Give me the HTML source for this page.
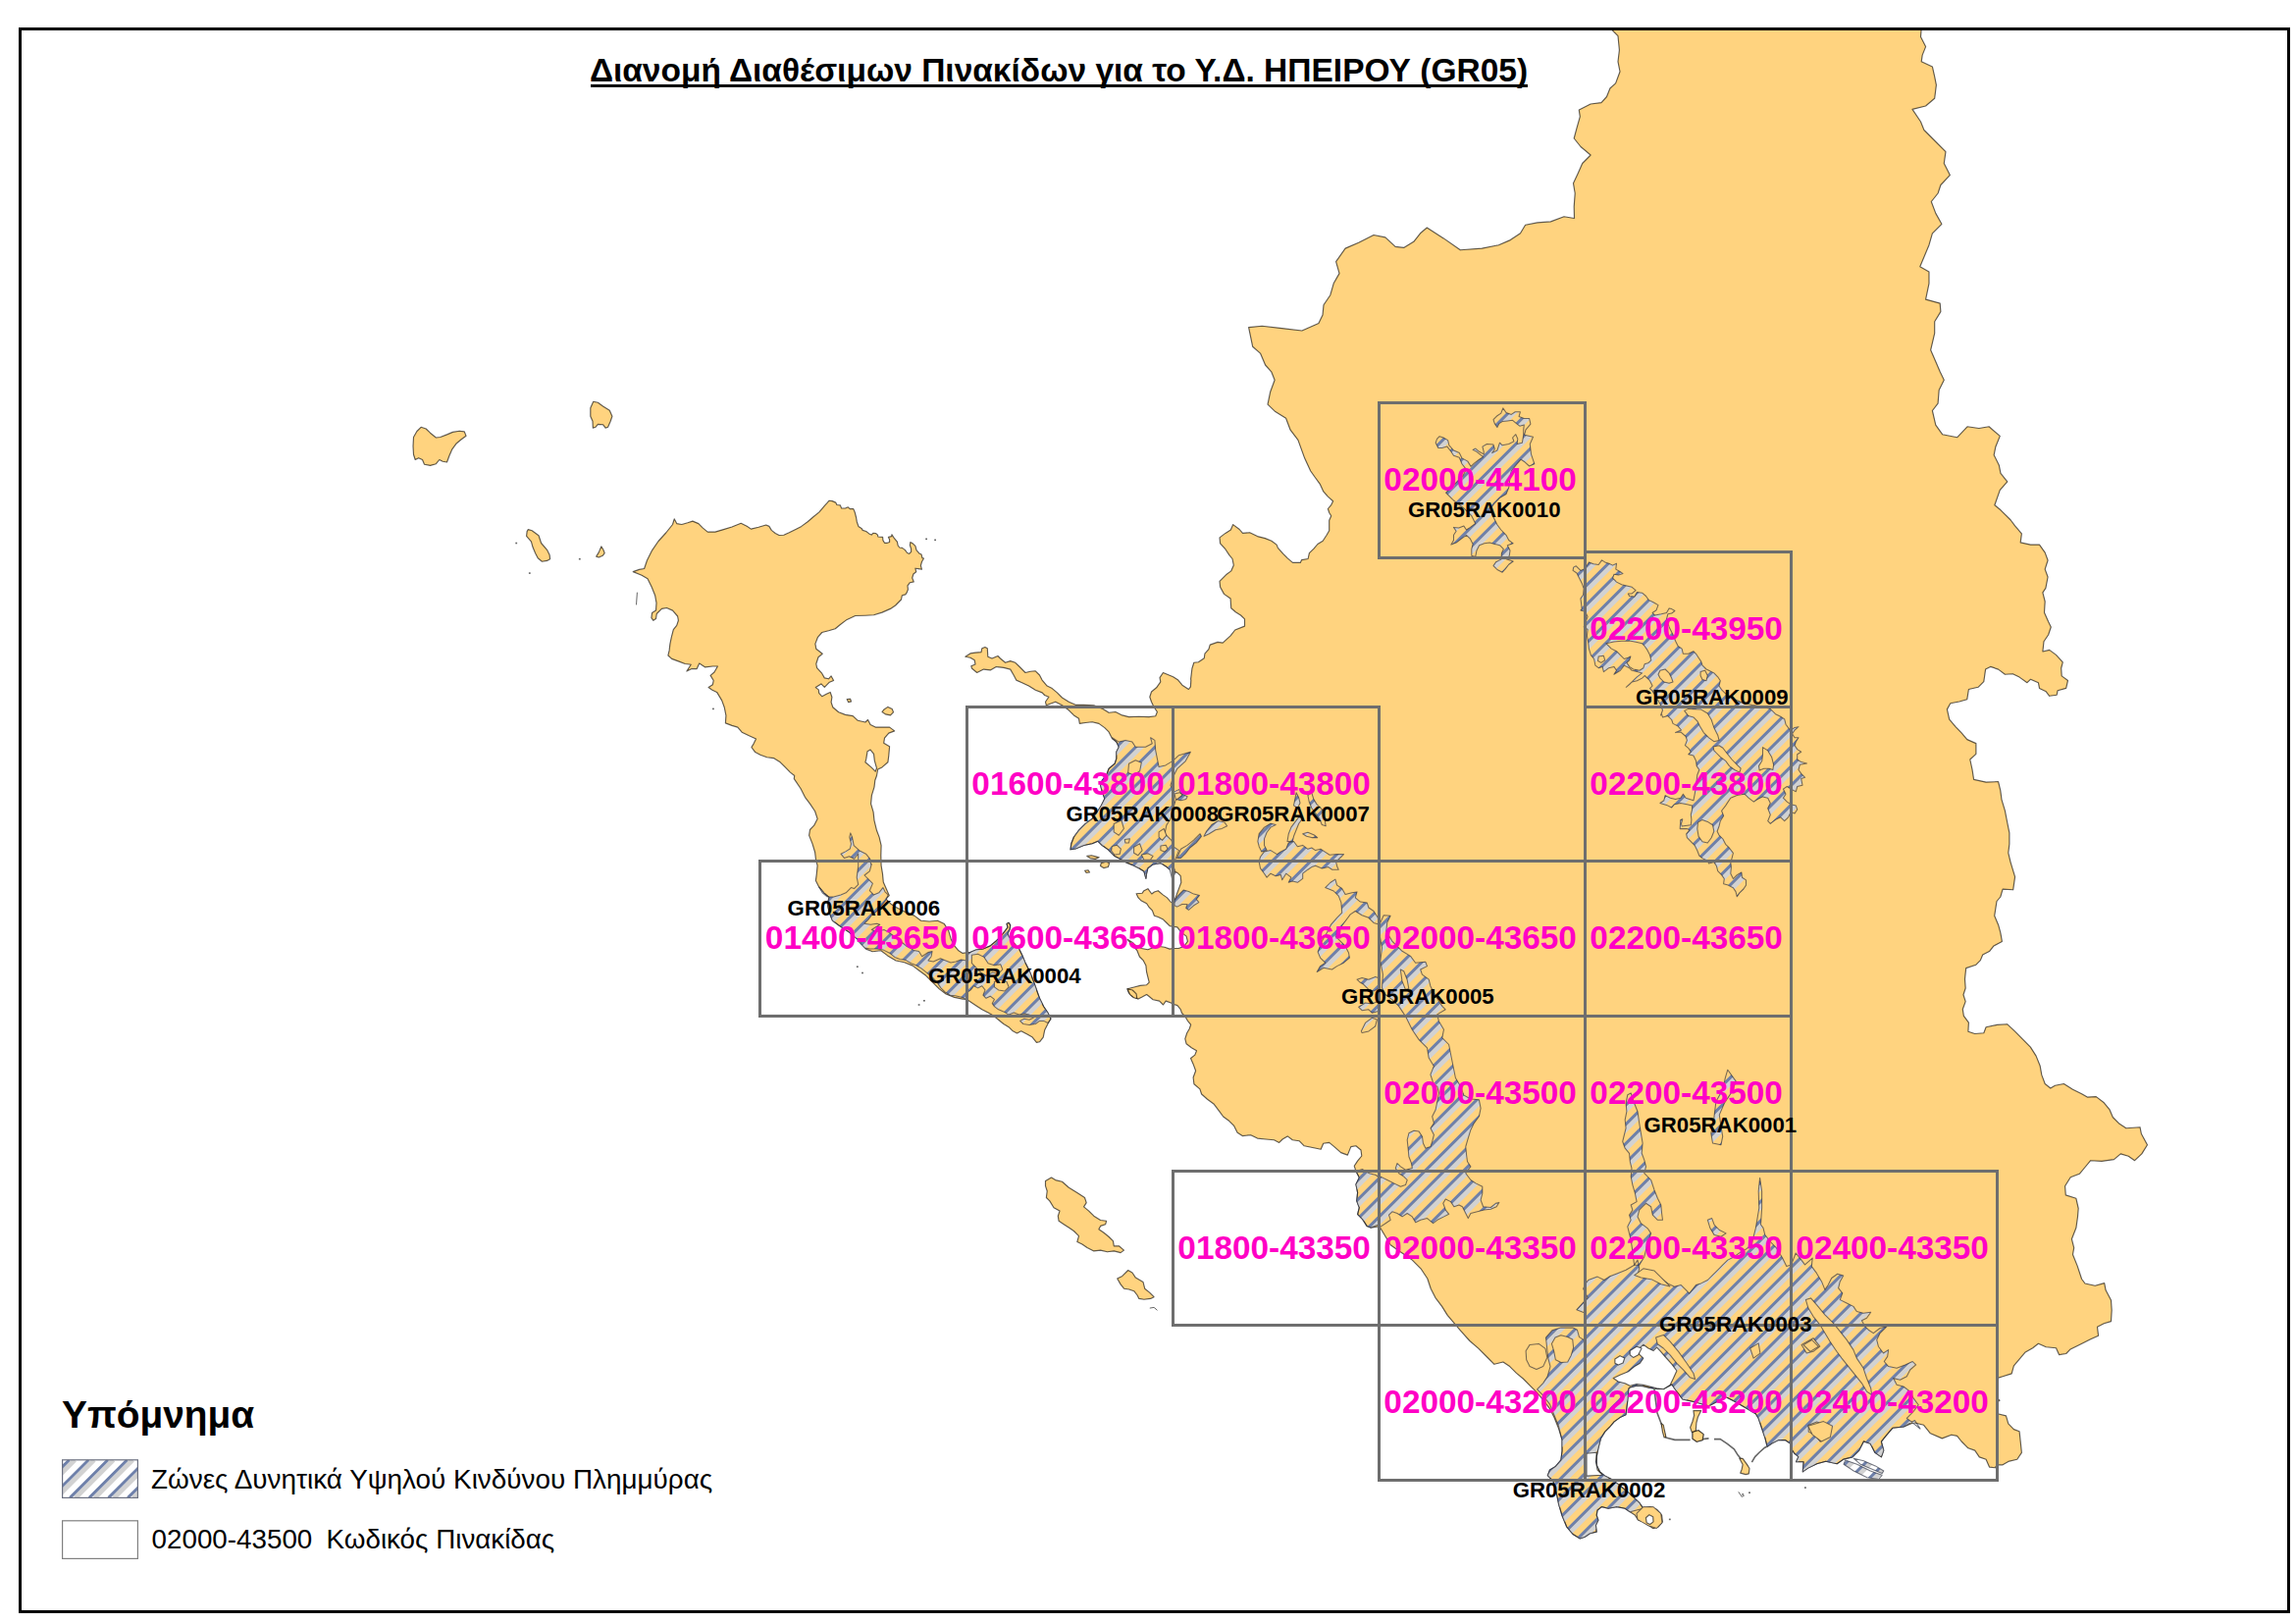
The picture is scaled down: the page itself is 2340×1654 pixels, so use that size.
<!DOCTYPE html>
<html><head><meta charset="utf-8"><title>GR05</title>
<style>
html,body{margin:0;padding:0;background:#fff}
body{width:2340px;height:1654px;overflow:hidden;font-family:"Liberation Sans",sans-serif}
svg{display:block}
text{font-family:"Liberation Sans",sans-serif}
.mg{font-size:33.33px;font-weight:bold;fill:#FF00C5;text-anchor:middle}
.rk{font-size:22.22px;font-weight:bold;fill:#000}
.land{fill:#FFD37F;stroke:#000;stroke-opacity:.62;stroke-width:1.15;stroke-linejoin:round}
.lag{fill:#fff;stroke:#000;stroke-opacity:.62;stroke-width:1.15;stroke-linejoin:round}
.zoneo{fill:none;stroke:#1a2030;stroke-opacity:.6;stroke-width:1.05;stroke-linejoin:round}
.hole{fill:#FFD37F;stroke:#1a2030;stroke-opacity:.6;stroke-width:1.05;stroke-linejoin:round}
.grid{fill:none;stroke:#6E6E6E;stroke-width:3}
</style></head><body>
<svg width="2340" height="1654" viewBox="0 0 2340 1654">

<rect width="2340" height="1654" fill="#fff"/>

<g id="land">
<polygon class="land" points="1641.5,29.2 1958.2,29.2 1957.5,37.4 1962.6,47.6 1959.2,56.1 1958.2,62.8 1969.4,67.9 1971.7,78.1 1973.4,86.6 1971.7,100.2 1962.6,108 1949,111.4 1957.5,124 1960.9,132.5 1969.4,141 1983,154.6 1981.3,166.5 1987.4,178.4 1977.9,188.5 1975.1,197 1968.3,205.5 1972.8,217.4 1978.9,228.3 1969.4,237.8 1966,249.7 1956.8,271.8 1966,276.9 1966,288.8 1962.6,305.1 1977.2,309.1 1977.9,317.6 1971.7,327.8 1971.7,339.7 1967.7,356.7 1972.8,368.6 1977.2,378.8 1981.3,387.3 1976.2,397.5 1975.1,411.1 1969.4,418.5 1972.8,433.1 1979.6,442.7 1994.8,445.7 2005,434.8 2016.9,436.5 2027.1,434.8 2038.3,444.4 2033.9,455.2 2032.2,463.7 2037.3,473.9 2039,482.4 2045.8,490.9 2038.3,499.4 2032.9,514.7 2039,519.8 2049.2,530 2053.6,535.9 2060.4,543.8 2059.2,552.9 2069.4,555.1 2078.5,555.1 2084.2,563.1 2087.1,571 2084.2,580.1 2087.1,588 2084.9,599.4 2081.9,603.9 2084.2,613 2083.5,624.3 2087.6,633.4 2090.3,639 2087.6,647 2083,653.8 2081.9,664 2088.7,662.4 2095.5,667.4 2102.3,674.9 2100.7,681 2101.2,688.9 2107.5,693.5 2105.7,701.4 2097.1,703.7 2096.2,708.2 2088.7,709.3 2085.3,704.8 2078.5,701.4 2077.4,695.7 2069.4,692.3 2066,695.7 2058.1,690.1 2051.3,686.7 2043.4,687.3 2036.6,682.1 2028.6,679.4 2023.6,682.1 2021.8,694.6 2016.1,700.3 2006.4,702.5 2004.8,712.7 1996.9,715 1987.8,716.8 1984.4,722.9 1986.7,733.2 1993.5,741.1 1999.1,746.8 2004.8,753.6 2013.9,757.6 2013.9,768.3 2007.8,774 2010,784.2 2011.6,794.4 2024.1,797.1 2036.6,796.6 2038.8,805.7 2040,814.8 2043.4,826.1 2045.6,837.5 2047.9,848.8 2047.9,860.1 2046.8,869.2 2049,878.3 2053.6,893.6 2051.7,906.8 2041.1,906.1 2038.8,914 2035,918.5 2032.7,933.3 2036.6,942.4 2038.8,950.3 2040.4,959.4 2032,963.9 2027.5,969.6 2020.7,973 2018.4,978.6 2013.9,983.2 2003.7,986.6 2002.5,997.9 2003.2,1007 2001,1013.8 2003.2,1020.6 2000.3,1028.5 2001.4,1035.3 2006.4,1042.1 2005.9,1051.2 2012.7,1053.5 2021.8,1052.8 2024.1,1046.7 2035.4,1044.4 2045.6,1043.7 2053.6,1051.2 2061.5,1059.1 2069.4,1067.1 2075.1,1076.1 2079.2,1086.3 2080.8,1095.4 2084.2,1104.5 2089.8,1109 2094.4,1106.3 2103.4,1104.5 2112.5,1110.2 2121.6,1114.7 2127.3,1118.1 2136.3,1117.6 2144.3,1123.8 2149.9,1130.6 2153.3,1138.5 2160.1,1145.3 2166.9,1149.8 2181,1148.7 2182.4,1155.5 2188.5,1166.8 2182.8,1175.9 2175.6,1182.7 2169.2,1178.2 2161.3,1175.9 2154.5,1181.6 2142,1183.4 2130.7,1182.7 2125,1189.5 2119.3,1196.3 2110.2,1199.7 2104.6,1208.8 2105.3,1217.9 2115.9,1221.3 2118.2,1231.5 2117.5,1240 2115.9,1251.3 2111.4,1262.7 2113.7,1271.7 2112.5,1278.5 2117.1,1289.9 2121.6,1303.5 2125,1308 2135.2,1310.3 2144.7,1307.6 2146.1,1314.8 2151.5,1325 2152.2,1335.2 2151.5,1346.6 2144.3,1348.8 2137.5,1352.2 2138.6,1361.3 2130.7,1364.7 2119.3,1370.4 2110.2,1374.9 2105.7,1379.5 2098.5,1380.6 2095.5,1373.8 2085.3,1372.7 2077.4,1369.3 2071.7,1373.8 2063.8,1378.3 2058.1,1385.1 2052.4,1391.9 2050.2,1399.9 2041.1,1402.8 2035.9,1404.4 2035.9,1425.5 2038.1,1427.1 2035.9,1428.7 2035.9,1440.7 2044.5,1442.9 2046.8,1450.9 2052.4,1456.6 2058.1,1458.8 2059.2,1469 2060.4,1480.4 2055.8,1487.2 2046.8,1489.4 2041.1,1492.8 2035.4,1492.8 2033.2,1495.8 2027.5,1495.1 2024.1,1487.2 2017.3,1484.9 2012.7,1478.1 2005.9,1475.8 1999.1,1469 1994.6,1463.4 1988.9,1462.2 1979.3,1465.9 1967.4,1460.8 1960.6,1452.3 1950.4,1449.7 1940.2,1454 1928.8,1455.3 1922,1463.3 1917.4,1469.1 1919.8,1478.1 1917.4,1484.9 1910.8,1480.3 1906.2,1471.3 1899.4,1468.9 1894.8,1478.1 1888,1484.9 1879,1487.1 1872.2,1491.7 1860.8,1489.3 1851.7,1491.7 1842.7,1496.1 1837.3,1499.9 1838.1,1489.7 1830.5,1489.7 1833,1484.6 1828.8,1481.2 1825.4,1476.1 1824.5,1471 1819.4,1467.6 1812.6,1467.6 1805.8,1471 1801.1,1474.4 1799,1465.9 1795.6,1455.7 1792.2,1445.5 1789.3,1440.7 1778.6,1434.4 1768.4,1428.5 1758.7,1423.5 1749.7,1428.5 1741.5,1432.9 1729.3,1429.3 1714.8,1425.9 1708.9,1418.2 1703.9,1410.9 1700.4,1412.8 1695.3,1415.4 1688.5,1415.4 1681.6,1414.5 1674.8,1412.8 1668,1412.3 1661.2,1414 1659.9,1415.2 1658.7,1428.5 1657,1441.7 1651,1444.6 1645.1,1448.9 1640.8,1454 1635.7,1459.1 1631.5,1465.9 1628.9,1476.1 1627.2,1484.6 1627.2,1493.1 1630.6,1499.9 1635.7,1504.1 1642.5,1507.5 1649.3,1512.6 1657.8,1519.5 1665.5,1526.3 1671.4,1532.2 1674.8,1537.3 1681.6,1535.6 1688.5,1538.2 1693.6,1544.1 1694.4,1550.9 1690.2,1556 1685,1557.7 1679.9,1554.3 1674.8,1550.9 1669.7,1549.2 1666.3,1544.1 1661.2,1540.7 1656.1,1537.3 1647.6,1535.6 1639.1,1537.3 1632.3,1535.6 1628.1,1539 1627.2,1544.1 1628.9,1549.2 1626.4,1554.3 1627.2,1561.1 1620.4,1562.8 1615.3,1566.2 1610.2,1567.9 1603.4,1563.8 1596.6,1555.8 1592,1544.5 1588.6,1533.2 1586.3,1521.8 1582.9,1509.4 1577.3,1503.7 1579.5,1498 1585.2,1494.6 1590.9,1487.8 1592,1478.7 1592,1467.4 1588.6,1456.1 1584.1,1444.7 1579.5,1435.7 1572.7,1426.6 1565.9,1418.7 1559.1,1411.9 1552.3,1405 1545.5,1399.4 1538.7,1392.6 1531.9,1388 1522.9,1390.3 1516.1,1383.5 1507,1374.4 1497.9,1366.5 1488.8,1356.3 1482,1348.4 1475.2,1340.4 1469.6,1331.4 1462.8,1322.3 1458.2,1313.2 1454.8,1303 1448,1292.8 1439.3,1284.1 1428.3,1276.5 1417.2,1268.8 1412.1,1260.3 1407,1251.8 1403.6,1250.1 1397.2,1251.1 1393,1249.4 1388.7,1242.6 1383.6,1237.5 1385.3,1230.7 1382.7,1223.9 1383.6,1215.4 1381.9,1206.9 1385.3,1200.1 1381.9,1193.6 1380.2,1188.2 1383.6,1183.1 1387.8,1178 1387,1172 1381.9,1167.8 1376.8,1168.6 1373.4,1177.1 1366.6,1174.6 1359.8,1168.6 1354.7,1164.4 1348.7,1165.2 1346.2,1171.2 1337.7,1169.5 1329.2,1167.8 1324.1,1162.7 1317.3,1161.8 1312.2,1157.9 1307.1,1161 1303.7,1164.4 1298.5,1161.8 1290,1161 1281.5,1160.1 1274.7,1156.7 1266.2,1157.6 1261.1,1154.2 1257.7,1147.4 1252.6,1142.3 1246.7,1138 1242.4,1132.1 1237.3,1125.3 1230.5,1120.2 1224.6,1115 1222.9,1109.9 1216.9,1104.8 1216.1,1098 1218.6,1091.2 1216.1,1084.4 1213.5,1078.5 1217.8,1075.1 1219.5,1070.8 1214.3,1067.8 1209.1,1063.8 1207.8,1058.6 1209.7,1052.7 1212.3,1048.2 1213.6,1044.2 1210.4,1040.3 1207.8,1035.7 1204.5,1032.5 1203.2,1028.6 1199.9,1024.6 1195.3,1023.3 1193.4,1022 1188.2,1020.1 1185.5,1024 1181.6,1020.1 1175.1,1018.8 1171.2,1015.5 1168.6,1013.5 1164,1016.1 1160.1,1018.1 1154.2,1015.5 1150.3,1011.6 1149,1007.7 1156.8,1005.7 1162,1004.4 1168.6,1003.7 1171.2,1001.1 1169.9,995.9 1168.6,990.7 1167.9,984.1 1165.3,978.9 1161.4,975 1158.8,968.5 1153.5,962.6 1149,957.3 1154.2,960.6 1158.8,964.5 1163.3,966.5 1169.9,967.8 1175.1,965.8 1181.6,964.5 1186.9,965.2 1192.1,967.1 1195.3,966.5 1201.2,966.5 1206.5,964.5 1210.4,959.3 1209.1,954.1 1203.8,950.2 1199.9,944.9 1195.3,944.3 1192.1,943.6 1189.5,941 1185.5,937.1 1180.3,934.5 1176.4,933.2 1174.4,927.9 1171.2,924.7 1168.6,920.8 1163.3,918.1 1160.1,914.9 1158.1,910.7 1164,910.3 1165.9,907.7 1169.9,905.7 1173.8,911 1176.4,909 1180.3,907.7 1184.9,911.6 1189.5,914.9 1193.4,919.5 1196,920.1 1198,914.9 1199.9,909.7 1201.9,904.4 1203.8,899.2 1203.2,892.7 1199.9,889.4 1195.3,888.1 1192.1,886.1 1188.2,882.9 1182.9,879.6 1175.1,880.9 1169.9,884.8 1168.6,890.1 1167.9,895.3 1165.9,888.1 1160.7,884.8 1154.2,881.6 1147.7,878.9 1142.4,875.7 1135.9,872.4 1129.4,865.9 1123.3,861.5 1119,857.3 1113.1,859.8 1104.6,861.5 1096.1,864.9 1091,865.8 1091.8,859.8 1094.4,853 1099.5,846.2 1106.3,839.4 1113.1,834.3 1118.2,827.5 1122.4,820.7 1125.8,813.9 1123.3,807.1 1121.6,800.3 1123.3,795.2 1127.5,790.1 1130.1,783.3 1136.1,778.2 1137.8,773.1 1137.8,766.3 1140.3,761.2 1137.8,756.1 1133.5,752.7 1130.1,745.9 1125.8,741.6 1119.9,737.4 1113.1,735.7 1106.3,736.5 1100.3,737.4 1099.5,732.3 1094.4,728.9 1089.3,723.8 1082.5,718.7 1075.7,715.3 1066.3,718.7 1065.5,715.3 1068.9,710.2 1064.6,708.5 1062.1,705.9 1055.3,703.3 1048.5,699.1 1041.6,695.7 1035.7,693.1 1033.1,688 1029.7,682.1 1022.9,680.4 1015.3,679.5 1009.3,682.9 1002.5,682.1 995.7,685.5 990.6,681.2 989.8,678.7 994,677 993.2,672.7 988.9,670.2 983.8,669.3 988.9,665.9 994,665.1 1000,664.6 1000.8,660.8 1003.9,659.5 1006.3,660.8 1006.8,669.3 1011,671 1017,668.5 1019.5,671 1024.6,675.3 1029.7,673.6 1034.8,675.3 1039.1,679.5 1045,685.5 1050.2,684.3 1055.3,683.8 1059.5,688 1062.1,693.1 1067.2,699.1 1072.3,701.6 1077.4,705.9 1082.5,711 1089.3,715.3 1096.1,718.3 1104.6,718.3 1114.8,718.7 1123.3,722.1 1130.1,726.3 1136.9,725.5 1143.7,728.9 1150.5,730.6 1160.7,730.2 1170.9,730.6 1177.7,729.7 1179.4,725.5 1176,720.4 1173.5,715.3 1171.8,710.2 1173.5,705 1178.6,700.8 1182.8,694.8 1182,690.6 1185.4,685.5 1189.6,687.2 1195.6,689.7 1200.7,693.1 1204.9,698.2 1211.4,702.5 1213.4,699.9 1213.8,693.1 1213.6,692.1 1214.9,681.2 1216.8,675.3 1221.4,674.7 1227.3,670.8 1227.9,666.2 1231.9,661.6 1233.2,657.1 1241,654.4 1246.2,655.1 1254.1,647.9 1258.7,642 1268.5,638.1 1268.5,630.9 1264.5,627 1259.3,623.7 1254.7,619.8 1254.1,610 1247.5,605.4 1243.6,598.3 1243,592.4 1250.2,585.2 1254.7,581.9 1257.3,576 1256,569.5 1252.8,565.6 1248.9,559.7 1243.6,553.8 1243,547.9 1248.9,543.4 1254.3,540.1 1256.7,534.6 1263.2,539.5 1266.5,543.4 1273.7,542.7 1281.5,546.6 1289.4,548.6 1295.9,551.2 1301.1,555.1 1302.4,558.4 1307.7,564.3 1312.2,568.9 1317.5,573.4 1325.3,573.4 1326.6,570.6 1333.1,569.5 1334.4,563.6 1339,559.1 1342.9,554.5 1348.2,551.2 1352.1,545.3 1354.7,540.8 1354.7,530.3 1356.7,525.7 1354.7,522.5 1353.4,518.5 1356.7,514.6 1358.6,510.7 1353.4,506.1 1348.8,500.9 1345.5,493.7 1340.3,486.5 1335.7,480 1329.7,467.1 1322.9,448.4 1315.1,438.2 1310.6,426.3 1299.8,419.6 1292,412.1 1294.7,399.2 1299.1,387.3 1295.7,378.8 1289.6,372 1284.5,360.1 1276.7,353.3 1272.6,333.6 1286.2,332.2 1306.6,334.6 1326.9,337 1343.9,329.5 1348,321 1349,310.8 1355.8,300.7 1359.2,288.8 1365,278.6 1361.6,266.7 1371.1,253.1 1384.7,247.3 1400,239.5 1411.9,241.9 1422.1,251.4 1430.6,252.4 1440.8,246.3 1447.5,237.8 1454.3,232 1471.3,242.9 1488.3,254.8 1510.4,253.1 1527.4,249.7 1539.3,244.6 1549.5,237.8 1554.6,229.3 1566.8,226.9 1580.4,225.9 1594,220.8 1604.5,222.5 1604.2,210.6 1605.2,197 1603.5,186.8 1608.2,176.7 1612.7,166.5 1621.1,158 1611,149.5 1604.2,141 1606.9,130.8 1610.3,118.9 1609.3,112.1 1621.1,106 1632,104.6 1637.5,98.5 1640.9,90 1646.6,84.9 1651,73 1649,62.8 1650.4,51 1649,36.7"/>
<polygon class="land" points="645.2,582.6 651.5,580.4 656.6,579.5 659.5,571 664.6,560.8 671,551.5 678.7,543 685.5,534.5 687.2,528.8 689.7,533.6 694.8,534.5 700.8,532.8 705.9,531.1 711.9,533.6 716.1,537.9 721.2,542.1 728.9,542.1 737.4,539.6 745.9,537 755.2,533.3 761.2,536.2 765.4,539.1 773.1,537.3 780.7,535 783.9,536.4 786.3,540.4 790.2,543.5 794.1,545.5 798.8,545.2 804.3,542.7 811.4,539.2 816.8,536.4 823.1,531.7 828.6,527 834.9,521.9 840.4,515.3 842.7,512.9 845.1,510.2 848.2,510.6 851.7,512.1 852.9,514.5 856.4,514.9 857.6,518 861.5,518 864.3,516.8 866.2,518.6 869.8,518.6 871.3,522.3 872.5,527 873.3,531.7 874.9,536.4 878,538.4 879.2,540.4 882.7,541.5 885.8,543.9 888.2,545.1 889.8,543.3 892.5,543.5 894.5,545.1 894.8,547 899.6,547.4 899.9,550.6 901.5,553.3 904.3,553.3 906.6,552.5 906.6,549.8 905.4,547.4 908.6,546.6 909,544.7 910.5,547.4 912.5,549.8 914.4,552.1 915.2,556 916.8,558 919.5,558.4 922.3,560.4 924.6,563.5 926.6,564.3 928.6,562.3 928.6,559.2 927.4,555.7 927.8,552.5 930.5,554.1 932.9,556.4 934,560.7 936.8,563.9 939.1,565.1 939.9,568.6 941.5,569 939.5,572.5 938.4,576.4 939.5,580.3 936,579.6 932.9,579.2 933.7,582.7 930.9,585 929.7,589 931.3,592.9 927.4,593.7 925,596.8 925.4,600.7 924.2,603.9 922.8,605.9 919.4,606.7 918.5,611 912.6,617 907.5,620.4 899,624.1 890.5,626.8 881.9,627.2 871.7,627.5 863.2,631.4 856.4,636.5 851.3,640.8 844.5,642.8 837.7,644.5 833.5,649.3 830.9,656.1 831.8,661.2 838.2,666.3 834,669.7 831.8,676.5 832.6,680.7 837.4,685.8 840.3,690.9 844.5,691.8 847.1,688.9 849.6,693.5 845.4,695.2 842,698.6 840.3,700.3 836.9,696.9 831.3,700.6 834.3,702.9 834.7,706.3 837.7,709.7 842.8,707.1 846.2,705.4 847.9,710.5 847.1,715.6 848.8,720.7 854.7,725.8 861.5,728.4 869.2,729.6 874.3,734.3 881.9,736 884.5,733.5 887.1,738.6 892.2,741.1 900.7,741.1 906.6,741.1 911.7,744.9 905.8,747.1 901.5,752.2 900.7,757.3 906.6,760.7 905.8,770 904.9,776.8 899,781.9 894.7,784 893.5,790.5 891.8,795.3 891,802.1 888.4,810.6 887.6,819.1 890.1,827.6 891,836.1 893.5,846.3 896.1,853.1 898.1,861.6 897.8,871.9 898.1,882.1 899.5,890.6 900.3,899.1 903.7,906.7 906.3,912.7 902.9,916.1 908,921.2 913.1,924.6 923.3,929.7 931.8,933.1 938.6,938.2 947.1,939 955.6,938.2 962.4,941.6 966.7,948.4 969.2,956.9 972.6,963.7 976.9,968.8 981.1,971.4 989.3,970.2 994.6,968.1 1001.9,967 1009.2,963.9 1015.5,958.7 1019.7,954.5 1023.9,949.2 1027,945 1026,941.4 1028.1,940.3 1029.7,942.9 1029.1,947.1 1027,951.3 1028.1,954.5 1033.3,960.8 1038.6,967 1041.7,973.3 1044.8,980.7 1049,989 1053.2,999.5 1056.9,1010 1059.5,1017.3 1063.7,1025.7 1067.9,1032 1071,1038.3 1067.9,1043.5 1064.7,1049.8 1063.2,1057.1 1059.5,1061.8 1056.4,1062.4 1052.2,1057.1 1046.9,1054 1040.7,1050.8 1036.5,1052.9 1032.3,1050.8 1028.1,1046.7 1022.8,1043.5 1017.6,1039.3 1012.4,1035.1 1007.1,1032 1000.8,1028.8 994.6,1024.7 988.3,1020.5 985.1,1018.4 981.1,1018.1 972.6,1016.4 964.1,1013 957.3,1007.9 950.5,1001.1 943.7,994.3 936.9,989.2 930.1,984.1 921.6,980.7 913.1,979 904.6,973.9 897.8,968.8 889.3,969.7 882.5,967.1 875.7,958.6 865.5,950.1 855.3,943.3 848.5,938.2 845,929.7 843.3,921.2 845,914.4 839.9,910.1 834.8,904.2 831.4,897.4 832.3,890.6 833.1,882.1 831.4,875.3 830.6,868.5 828,859.9 824.6,851.4 825.5,845.5 829.7,841.2 833.1,834.4 830.6,826.8 825.5,819.1 820.4,812.3 816.1,803.8 809.3,793.6 809.7,790.5 805.4,787.1 800.3,781.9 795.2,776.8 788.4,772.6 781.6,771.7 774.8,769.2 769.7,766.6 765.9,761.5 768,758.1 770.5,753 762.9,749.6 756.1,746.2 751.8,741.1 745.9,739.4 739.4,736.9 739.9,729.2 738.2,720.7 735.7,713.9 730.6,705.4 725.5,702.9 722.1,700.6 726.3,697.8 727.2,693.5 724.1,688.4 728,685 731.4,679 726.3,679 718.7,679.9 712.7,676.1 710.2,681.6 705,681.6 699.9,684.1 704.2,677.3 698.2,676.5 691.4,673.9 684.6,671.4 680.9,668 682.1,662.9 682.9,656.1 684.3,649.3 686.3,641.6 689.7,637.4 691.4,632.3 690.6,628 685.5,622.1 679.5,619.5 674.4,620.4 669.3,625.5 668.5,630.6 665.9,632.3 663.9,629.7 664.6,624.6 668.5,622.1 669,614.4 667.6,606.7 664.2,598.2 660,589.7 654,586.3"/>
<polygon class="land" points="429.1,435.3 434.2,437 438.5,441.2 444.4,446 448.7,445.5 455.5,442.9 461.4,440.4 468.2,439.2 473.3,439.9 475,444.3 469.9,448 464.8,452.3 460.6,458.2 458,464.2 455.5,471 451.2,470.2 447.8,468.5 444.4,472.7 438.5,474.4 432.5,473.2 430.5,468.5 426.6,466.7 423.2,468.5 421.5,463.3 421,454.8 421.5,445.5 424.9,439.5"/>
<polygon class="land" points="604.7,409.3 609.4,410.3 614.5,414 621.3,418.3 623.9,424.2 622.2,429.3 619.6,435.3 617.1,436.1 614.5,432.7 609.4,432.4 606.9,435.3 604.3,436.1 604,429.3 601.8,424.2 601.8,415.7"/>
<polygon class="land" points="538.3,539.6 542.2,540.7 549,545.8 551.6,553.5 557.5,560.3 560.1,565.4 560.6,569.7 557.5,571.4 552.4,572.2 548.2,568.8 545.6,563.7 543.1,557.8 541.4,551.8 536.6,546.4 537.1,541.6"/>
<polygon class="land" points="612.8,556.9 614.9,560.3 616.2,563.7 614.2,566.3 610.3,568 607.7,567.1 610.3,562.9"/>
<polygon class="land" points="1065.5,1203.5 1071.5,1200.1 1075.7,1202.6 1082.5,1204.3 1089.3,1210.3 1097.8,1215.4 1105.5,1220.5 1107.2,1225.6 1104.6,1229.9 1109.7,1234.1 1114.8,1239.2 1121.6,1243.5 1127.6,1244.3 1126.7,1247.7 1121.6,1249.4 1119.9,1252.8 1125,1256.2 1130.2,1260.5 1134.4,1264.7 1135.3,1269.8 1140.4,1269.8 1145.5,1274.1 1142.1,1276.6 1135.3,1274.9 1128.5,1275.8 1121.6,1274.1 1114.8,1274.9 1108,1271.5 1102.9,1268.1 1097.8,1265.6 1099.5,1259.6 1094.4,1254.5 1089.3,1251.1 1084.2,1247.7 1079.1,1244.3 1078.3,1239.2 1080,1234.1 1074,1230.7 1069.8,1223.9 1066.4,1220.5 1067.2,1213.7 1065.5,1208.6"/>
<polygon class="land" points="1138.7,1303 1143.8,1300.4 1149.7,1294.5 1154,1297 1157.4,1302.1 1165,1306.4 1166.7,1313.2 1171.8,1317.4 1176.1,1321.7 1172.7,1323.4 1165.9,1324.2 1160.8,1323.4 1159.1,1320 1155.7,1315.7 1150.6,1314 1145.5,1313.2 1142.1,1308.9"/>
<polygon class="land" points="900.7,723.3 904.9,720.4 909.2,722.4 910.5,725.8 907.5,728.9 902.4,727.9 899,725.5"/>
<polygon class="land" points="863.2,712.5 866.6,712.2 867.5,714.9 864.6,715.6"/>
<polygon class="land" points="1107.8,872.4 1112.4,871.8 1117.6,873.1 1120.2,873.7 1116.3,875.4 1111.1,874.6"/>
<polygon class="land" points="1122.2,879.6 1127.4,878.3 1130.7,879.6 1129.4,883.5 1124.8,884.6 1121.5,882.5"/>
<polygon class="land" points="1105.6,887.2 1109.1,886.8 1110.5,889 1107.1,889.5"/>
<polygon class="land" points="1149,1007.7 1154.2,1009 1158.1,1012.9 1158.8,1017.5 1155.5,1016.8 1151.6,1013.5"/>
<rect x="525.3" y="552.7" width="1.8" height="1.6" fill="#666"/>
<rect x="538.9" y="583.3" width="1.8" height="1.6" fill="#666"/>
<rect x="589.9" y="568.9" width="1.8" height="1.6" fill="#666"/>
<rect x="943.2" y="548.5" width="1.8" height="1.6" fill="#666"/>
<rect x="952.2" y="549.5" width="1.8" height="1.6" fill="#666"/>
<rect x="726" y="721.6" width="1.8" height="1.6" fill="#666"/>
<rect x="872.9" y="984.4" width="1.8" height="1.6" fill="#666"/>
<rect x="878.1" y="990.7" width="1.8" height="1.6" fill="#666"/>
<rect x="941" y="1019" width="1.8" height="1.6" fill="#666"/>
<rect x="935.7" y="1023.2" width="1.8" height="1.6" fill="#666"/>
<rect x="1775.3" y="1522.1" width="1.8" height="1.6" fill="#666"/>
<rect x="1782.1" y="1520.4" width="1.8" height="1.6" fill="#666"/>
<rect x="1839" y="1515.3" width="1.8" height="1.6" fill="#666"/>
<rect x="1700.9" y="1547.6" width="1.8" height="1.6" fill="#666"/>
<polyline points="649.4,603.7 648.5,616.4" fill="none" stroke="#666" stroke-width="1"/>
<polyline points="1171.8,1333.1 1176.1,1332.4 1179.5,1335.3" fill="none" stroke="#666" stroke-width="1"/>
<polyline points="1771.8,1520.3 1775.2,1525.4 1777.8,1524" fill="none" stroke="#666" stroke-width="1"/>
</g>
<g id="zones">
<clipPath id="zc">
<polygon points="1522,427.7 1525.9,423.7 1529.8,421.1 1531.8,415.9 1535,420.5 1540.3,422.4 1544.2,419.8 1549.4,419.8 1548.1,424.4 1553.3,426.4 1558.6,426.4 1559.9,432.2 1554.9,438.1 1553.6,443.3 1562.5,445.3 1559.3,452.5 1560.5,462.9 1563.8,472.7 1558.6,475 1554,470.8 1550.1,468.2 1545.5,473.4 1540.3,479.9 1539,486.5 1537.7,496.9 1535,503.5 1528.5,507.4 1523.3,512.6 1519.4,517.8 1520.7,524.4 1523.3,529.6 1525.9,534.8 1529.8,540 1535,545.3 1537.7,550.5 1542.2,553.8 1536.3,555.7 1539,560.9 1538.3,566.2 1535.7,570.1 1542.2,572.1 1537.7,575.3 1533.7,580.5 1531.1,583.2 1525.9,580.5 1522,576.6 1524.6,572.7 1529.8,570.1 1530.5,563.6 1532.4,559.6 1528.5,555.7 1523.3,554.4 1518.1,553.1 1512.8,553.8 1507.6,555.7 1505,560.9 1503.7,567.5 1499.8,566.2 1499.8,559.6 1501.1,554.4 1498.5,549.2 1494.5,545.3 1489.3,549.2 1484.1,553.1 1478.9,555.1 1481.5,550.5 1481.5,545.3 1484.1,541.3 1481.5,537.4 1486.7,538.1 1491.9,536.1 1494.5,540 1498.5,537.4 1503.7,533.5 1499.8,525.7 1491.9,517.8 1481.5,510 1473.6,502.1 1481.5,494.3 1490.6,485.2 1494.5,478.6 1490,472.7 1487.3,466.2 1481.5,464.3 1478.9,460.3 1474.9,455.1 1469.7,456.4 1465.8,456.4 1463.2,451.2 1464.5,447.3 1467.1,444.7 1471,446 1475.6,448.6 1476.9,453.8 1481.5,459 1487.3,461.6 1490,466.9 1495.8,470.1 1499.1,475.4 1502.4,472.1 1507.6,468.2 1511.5,465.6 1505,460.3 1501.1,458.4 1503.7,457.1 1507.6,460.3 1512.2,462.9 1512.2,460.3 1510.9,455.1 1515.4,452.5 1522,453.1 1523.3,457.7 1520.7,461.6 1525.9,459 1528.5,451.2 1531.1,453.8 1537.7,452.5 1542.9,449.9 1541.6,446 1544.8,442.7 1546.8,447.3 1546.1,452.5 1551.4,451.2 1552.7,443.3 1552.7,438.1 1553.3,432.9 1548.8,434.2 1545.5,431.6 1541.6,428.3 1536.3,429 1531.1,429.6 1527.9,431.6 1525.9,435.5 1523.3,431.6"/>
<polygon points="1603.7,578.1 1606.3,576.8 1610.9,581.4 1615.5,579.4 1619.4,572.9 1624,574.8 1629.2,575.5 1632.5,570.9 1635.7,572.9 1639.7,574.2 1643.6,576.1 1647.5,574.2 1646.8,580.1 1651.4,582.7 1654,584.6 1649.5,585.9 1644.9,585.3 1643.6,589.2 1647.5,593.1 1652.7,595.7 1657.9,597 1663.2,598.3 1667.1,601.6 1663.2,604.9 1659.3,604.9 1660.6,607.5 1665.8,608.1 1668.4,603.6 1673.6,604.2 1677.5,607.5 1680.2,611.4 1685.4,614 1690,616.6 1688,621.9 1684.1,624.5 1686.7,627.1 1693.2,625.8 1698.5,624.5 1701.1,619.9 1703.7,620.6 1706.9,622.5 1703.7,625.1 1699.8,625.8 1698.5,631 1701.1,638.9 1705,646.7 1707.6,653.2 1710.2,658.5 1714.1,661.1 1715.4,666.3 1720.7,666.3 1725.9,663.7 1728.5,666.3 1731.1,670.2 1733.7,674.1 1735,678.1 1739,682 1741.6,683.3 1746.8,685.9 1750.7,689.8 1753.3,693.7 1752,699 1754.6,702.9 1758.6,706.8 1766.4,712 1775.5,715.9 1786,718.6 1796.5,719.9 1804.3,722.5 1809.5,727.7 1814.7,730.3 1818.7,732.9 1820,738.2 1823.9,743.4 1825.5,744 1829.1,741.4 1833,740.7 1829.1,744 1826.5,747.9 1829.1,751.8 1833,751.8 1830.4,755.7 1829.1,759.7 1831.7,763.6 1835.7,766.2 1831.7,768.8 1831.7,774 1835.7,776.6 1841.5,777.9 1834.3,779.3 1833,784.5 1835.7,788.4 1839.6,792.3 1835.7,793.6 1837,800.2 1831.7,801.5 1830.4,806.7 1825.2,804.1 1821.3,801.5 1817.4,804.1 1820,809.3 1817.4,813.2 1821.3,817.1 1825.2,819.8 1830.4,821.1 1831.7,825 1829.1,828.9 1825.2,827.6 1822.6,832.8 1818.7,836.7 1814.7,832.8 1809.5,835.4 1804.3,839.4 1801.7,836.7 1804.3,830.2 1801.7,823.7 1804.3,818.5 1801.7,813.2 1796.5,811.9 1791.2,814.5 1787.3,817.1 1782.1,813.2 1778.2,809.3 1772.9,810 1770.3,810.6 1763.8,813.2 1761.2,817.1 1758.6,821.1 1754.6,826.3 1756.6,831.5 1753.3,836.7 1752,842 1750.1,847.2 1752,851.1 1755.9,855 1758.6,860.3 1762.5,864.2 1766.4,869.4 1765.1,874.6 1763.8,878.6 1764.4,883.8 1763.8,890.3 1766.4,895.5 1770.3,891.6 1774.9,889 1775.5,894.2 1779.5,896.9 1779.5,902.1 1776.9,906 1772.9,909.9 1770.3,913.8 1769,908.6 1766.4,904.7 1761.2,902.1 1756.6,900.8 1757.3,895.5 1754.6,891.6 1750.7,887.7 1749.4,882.5 1746.8,878.6 1741.6,879.9 1740.3,877.3 1735,874.6 1731.8,872 1729.8,866.8 1727.2,861.6 1723.3,857.7 1719.4,853.7 1718.7,849.8 1722,845.9 1719.4,844.6 1712.2,844.6 1712.8,835.4 1714.8,834.8 1713.5,839.4 1714.1,842 1723.3,840.7 1723.9,835.4 1723.3,830.2 1724.6,825 1724.6,821.1 1719.4,819.8 1712.8,818.5 1706.3,819.8 1703.7,823 1698.5,820.4 1691.9,818.5 1695.8,815.8 1697.1,810.6 1702.4,813.2 1707.6,814.5 1712.8,813.2 1715.4,809.3 1718.1,813.2 1722,814.5 1725.9,815.8 1727.2,809.3 1728.5,801.5 1729.8,789.7 1731.8,784.5 1729.2,780.6 1728.5,775.3 1725.9,770.1 1720.7,768.8 1723.3,766.2 1720.7,762.3 1717.4,759.7 1719.4,754.4 1718.1,750.5 1712.8,745.9 1707.6,746.6 1713.5,744 1710.2,740.1 1705,737.4 1703.7,733.5 1699.8,729.6 1694.5,730.9 1693.2,727 1692.6,729 1694.5,723.8 1691.9,717.3 1688,710.7 1684.1,704.2 1681.5,701.6 1684.1,699 1681.5,693.7 1678.9,691.1 1676.2,688.5 1673.6,691.1 1668.4,693.7 1663.2,695 1657.3,700.3 1660.6,697.7 1664.5,693.7 1668.4,689.8 1673.6,685.9 1668.4,684.6 1663.2,683.3 1660.6,680.7 1655.3,678.1 1651.4,683.3 1644.9,687.2 1647.5,683.3 1644.9,679.4 1639.7,680.7 1634.4,684.6 1633.1,679.4 1629.2,680.7 1625.9,678.1 1624.6,671.5 1621.4,667.6 1619.4,661.1 1618.7,654.5 1617.4,648 1618.1,641.5 1614.2,638.9 1616.1,633.6 1618.1,628.4 1615.5,623.2 1610.9,621.9 1612.2,620.6 1611.6,615.3 1610.9,610.1 1613.5,606.2 1614.2,599.7 1612.2,594.4 1609.6,589.2 1607,584 1603.1,581.4"/>
<polygon points="1133.5,751.8 1140.3,756.1 1147.1,754.4 1153.9,756.1 1157.3,761.2 1167.5,761.2 1174.3,757.8 1172.6,751.8 1176.9,754.4 1177.7,764.6 1179.4,773.1 1181.1,781.6 1187.9,779.9 1195.1,775.6 1201.5,769.7 1213.4,766.3 1208.3,775.6 1199.8,783.3 1195.6,791.8 1193,800.3 1196.4,807.1 1201.5,804.6 1204.9,810.5 1198.1,815.6 1195.6,824.1 1193,834.3 1188.8,841.1 1187.1,849.6 1193.9,856.4 1196.4,863.2 1201.5,866.6 1198.1,875.1 1195.6,881.9 1198.1,888.8 1194.7,896.1 1192.1,886.1 1188.2,882.9 1182.9,879.6 1175.1,880.9 1169.9,884.8 1168.6,890.1 1167.9,895.3 1165.9,888.1 1160.7,884.8 1154.2,881.6 1147.7,878.9 1142.4,875.7 1135.9,872.4 1129.4,865.9 1123.3,861.5 1119,857.3 1113.1,859.8 1104.6,861.5 1096.1,864.9 1091,865.8 1091.8,859.8 1094.4,853 1099.5,846.2 1106.3,839.4 1113.1,834.3 1118.2,827.5 1122.4,820.7 1125.8,813.9 1123.3,807.1 1121.6,800.3 1123.3,795.2 1127.5,790.1 1130.1,783.3 1136.1,778.2 1137.8,773.1 1137.8,766.3 1140.3,761.2 1137.8,756.1"/>
<polygon points="1283.2,878.4 1284.5,873.2 1288.5,867.9 1295,866.6 1301.5,870.6 1305.4,867.9 1310.7,865.3 1313.3,858.8 1318.5,857.5 1322.4,862.7 1327.7,861.4 1332.9,865.3 1336.8,864 1340.7,866.6 1345.9,865.3 1349.9,867.9 1355.1,871.2 1362.9,870.6 1369.5,870.6 1365.5,874.5 1361.6,878.4 1362.9,883.6 1364.2,886.2 1357.7,886.2 1353.8,883.6 1347.3,884.9 1340.7,882.3 1336.8,883.6 1332.9,886.2 1327.7,890.2 1327.7,895.4 1322.4,899.3 1317.2,898 1313.3,899.3 1315.9,894.1 1310.7,890.2 1306.7,896.7 1305.4,891.5 1300.2,892.8 1295,890.2 1291.1,894.1 1288.5,890.2 1284.5,884.9"/>
<polygon points="1281.9,857.5 1283.2,849.7 1288.5,843.1 1295,839.2 1300.2,840.5 1295,843.1 1291.1,848.3 1288.5,854.9 1288.5,861.4 1291.1,866.6 1285.8,867.9 1283.2,862.7"/>
<polygon points="1312,857.5 1313.3,849.7 1315.9,843.1 1319.8,837.9 1323.7,832.7 1327.7,834 1323.7,839.2 1321.1,845.7 1318.5,852.3 1317.2,857.5"/>
<polygon points="1321.1,807.8 1323.7,813.1 1325,818.3 1322.4,823.5 1318.5,820.9 1319.8,814.4"/>
<polygon points="1327.7,849.7 1332.9,848.3 1339.4,851 1342.7,853.6 1336.8,853.6 1331.6,852.3"/>
<polygon points="1332.9,810.5 1336.8,807.8 1338.8,814.4 1342,819.6 1348.6,826.1 1349.9,834 1351.2,841.8 1347.3,840.5 1344.6,834 1340.7,828.7 1336.8,823.5 1334.2,817"/>
<polygon points="1227,852.3 1229.7,847 1234.9,840.5 1241.4,836.6 1247.9,837.9 1250.6,841.8 1245.3,844.4 1238.8,845.7 1232.3,849.7"/>
<polygon points="1199.6,874.5 1203.5,865.3 1210.1,861.4 1216.6,856.2 1223.1,849.7 1224.4,852.3 1219.2,858.8 1212.7,864 1208.7,869.3 1203.5,874.5"/>
<polygon points="1197,917.6 1200.9,912.4 1206.1,907.1 1211.4,908.5 1216.6,911.1 1222.5,912.4 1219.2,916.3 1221.8,919.6 1216.6,922.8 1211.4,927.4 1208.7,925.4 1210.1,921.5 1204.8,921.5 1199.6,924.1 1197,922.8"/>
<polygon points="1197,809.1 1202.2,807.8 1210.1,811.8 1208.7,814.4 1203.5,815.7 1198.3,814.4"/>
<polygon points="1350.7,904.6 1355.8,899.5 1360.9,896.1 1362.6,902.1 1367.7,905.5 1371.1,911.4 1377.9,909.7 1383,908.9 1381.3,914.8 1386.4,919.1 1393.2,919.9 1394.9,925 1400,928.5 1404.3,935.3 1405.1,942.1 1400,940.4 1394.9,935.3 1388.1,932.7 1381.3,928.5 1376.2,931.9 1371.1,938.7 1366,945.5 1360.9,954 1366,959.1 1371.1,964.2 1374.5,971 1375.4,976.1 1369.4,981.2 1362.6,984.6 1357.5,988 1349,986.3 1342.2,990.5 1345.6,984.6 1350.7,981.2 1345.6,976.1 1343.1,970.1 1347.3,959.1 1352.4,950.6 1356.7,942.1 1362.6,935.3 1367.7,930.2 1366.9,919.9 1364.3,913.1 1359.2,908"/>
<polygon points="1406,942.1 1410.2,932.7 1417.1,933.2 1413.7,940.4 1412.8,948.9 1418.8,959.1 1429,969.3 1437.5,974.4 1442.6,981.2 1452.8,980.3 1454.5,984.6 1447.7,988 1449.4,993.1 1456.2,998.2 1457.9,1005 1461.3,1011.8 1466.4,1020.3 1469.8,1025.4 1473.2,1028.8 1464.7,1033.9 1466.4,1040.7 1471.5,1049.2 1469.8,1057.7 1476.6,1064.5 1478.3,1073 1480,1081.5 1481.7,1090 1483.4,1098.5 1488.5,1107.1 1491.9,1116.1 1498.9,1120 1507.4,1120.8 1509.1,1129.3 1507.4,1137.8 1502.3,1144.6 1498.9,1151.4 1496.3,1159.9 1493.8,1168.5 1494.6,1177 1495.5,1183.8 1498.9,1188.9 1495.5,1193.1 1493.8,1195.7 1498.9,1202.5 1504,1205.9 1510.8,1209.3 1510.8,1216.1 1509.1,1222.9 1511.6,1229.7 1519.3,1230.5 1524.4,1226.3 1527.8,1225.4 1525.2,1229.7 1519.3,1232.2 1512.5,1233.1 1505.7,1234.8 1498.9,1236.5 1496.3,1241.6 1493.8,1236.5 1490.4,1229.7 1487,1228 1481.9,1229.7 1478.5,1224.6 1473.3,1222 1470.8,1226.3 1473.3,1233.1 1476.7,1237.3 1471.6,1239.9 1464.8,1243.3 1460.6,1246.7 1454.6,1241.6 1447.8,1243.3 1442.7,1245.8 1439.3,1239.9 1434.2,1236.5 1429.1,1239.9 1424,1236.5 1418.9,1234.8 1415.5,1238.2 1417.2,1243.3 1412.1,1246.7 1407,1250.1 1403.6,1248.4 1397.2,1251.1 1393,1249.4 1388.7,1242.6 1383.6,1237.5 1385.3,1230.7 1382.7,1223.9 1383.6,1215.4 1381.9,1206.9 1385.3,1200.1 1381.9,1193.6 1388.7,1191.6 1395.5,1195.8 1402.3,1197.5 1405.4,1200.1 1407,1199.1 1413.8,1202.5 1420.6,1205.9 1427.4,1209.3 1432.5,1207.6 1434.2,1202.5 1430.8,1199.1 1425.7,1195.7 1422.3,1190.6 1424,1185.5 1427.4,1188.9 1432.5,1192.3 1439.3,1190.6 1438.5,1185.5 1435.9,1178.7 1435.1,1170.2 1434.2,1161.6 1435.9,1154.8 1441,1152.3 1446.1,1153.1 1449.5,1158.2 1450.4,1165 1452.9,1170.2 1458,1168.5 1459.7,1163.3 1461.4,1156.5 1458,1149.7 1461.4,1144.6 1459.7,1137.8 1463.1,1131 1464.8,1122.5 1466.5,1114 1464.8,1107.2 1461.3,1105.4 1457.9,1095.1 1461.3,1086.6 1456.2,1078.1 1454.5,1067.9 1446,1059.4 1439.2,1049.2 1432.4,1035.6 1425.6,1025.4 1418.8,1018.6 1411.9,1013.5 1408.5,1006.7 1409.4,993.1 1406.8,979.5 1408.5,965.9 1406,952.3"/>
<polygon points="1383,998.2 1388.1,996.5 1394.9,998.2 1401.7,995.6 1404.6,996.5 1404.6,1007.5 1400,1010.1 1394.9,1008.4 1389.8,1003.3 1385.6,1000.7"/>
<polygon points="1384.7,1026.3 1391.5,1022 1398.3,1022.9 1404.6,1020.3 1404.6,1030.5 1398.3,1032.2 1394.9,1028.8 1388.1,1029.7"/>
<polygon points="1387.3,1050.9 1391.5,1042.4 1398.3,1037.3 1403.4,1039 1401.7,1045.8 1394.9,1050.9 1388.1,1052.6"/>
<polygon points="1658.8,1115.7 1662.2,1114 1665.6,1124.2 1669,1132.7 1670.7,1144.6 1672.4,1154.8 1674.1,1165 1673.2,1175.3 1675.8,1182.1 1677.5,1188.9 1675.8,1195.7 1682.6,1202.5 1686,1212.7 1689.4,1221.2 1692.8,1228 1693.6,1236.5 1694.5,1243.3 1689.4,1243.3 1684.3,1238.2 1682.6,1229.7 1677.5,1226.3 1674.1,1229.7 1670.7,1233.1 1669,1239.9 1672.4,1246.7 1679.2,1251.8 1682.6,1256.9 1679.2,1267.1 1675.8,1280.7 1670.7,1289.2 1665.6,1289.2 1663.9,1275.6 1662.2,1263.7 1660.5,1256.9 1658.8,1250.1 1662.2,1243.3 1660.5,1238.2 1663.9,1233.1 1662.2,1228 1668.1,1224.6 1666.4,1216.1 1663.9,1207.6 1662.2,1199.1 1663,1190.6 1661.3,1183.8 1660.5,1175.3 1656.2,1170.2 1653.7,1163.3 1655.4,1156.5 1657.1,1149.7 1656.2,1141.2 1657.9,1132.7 1657.1,1124.2"/>
<polygon points="1760.8,1090.2 1769.3,1102.1 1764.2,1114 1757.4,1124.2 1752.3,1136.1 1754,1148 1755.7,1158.2 1754,1166.7 1745.5,1165 1743.8,1154.8 1746.4,1144.6 1747.2,1136.1 1748.9,1122.5 1755.7,1110.6 1758.3,1098.7"/>
<polygon points="1740.4,1243.3 1744.7,1241.6 1747.2,1248.4 1752.3,1253.5 1759.1,1256.9 1754,1260.3 1747.2,1258.6 1743,1251.8"/>
<polygon points="1616.3,1308 1616.2,1307.9 1618.8,1304.5 1628.1,1301.1 1634.9,1304.5 1640,1301.1 1648.5,1297.7 1657.1,1294.3 1665.6,1289.2 1669,1284.1 1670.7,1292.6 1669,1299.4 1675.8,1301.1 1684.3,1300.3 1692.8,1302.8 1699.6,1307.9 1706.4,1311.3 1713.2,1309.6 1718.3,1314.7 1721.7,1318.1 1728.5,1309.6 1733.6,1307.9 1740.4,1304.5 1745.5,1299.4 1750.6,1294.3 1755.7,1289.2 1760.8,1284.1 1767.6,1280.7 1774.4,1275.6 1780,1272.7 1785.1,1268.5 1789.4,1251.4 1792.8,1231 1792.2,1214 1793.6,1200.4 1795.6,1214 1795.6,1231 1794.5,1248 1797,1251.4 1798.7,1258.2 1803.8,1265 1810.6,1271.9 1816.6,1282.1 1820.8,1290.6 1825.6,1288.9 1830.2,1277 1834.4,1282.1 1839.5,1288.9 1847.2,1282.1 1846.3,1290.6 1851.4,1297.4 1856.5,1305.9 1859.9,1314.4 1863.3,1309.3 1866.7,1302.5 1872.7,1298.2 1878.7,1299.9 1875.3,1305.9 1873.6,1312.7 1877.8,1317.8 1875.3,1324.6 1882.1,1328 1888.9,1331.4 1892.3,1336.5 1899.1,1338.2 1906.7,1337.3 1902.5,1343.3 1897.4,1345.8 1900.8,1351.8 1904.2,1355.2 1909.3,1358.6 1916.1,1353.5 1922.9,1351.8 1916.1,1358.6 1912.7,1365.4 1914.4,1372.2 1919.5,1379 1924.6,1375.6 1923.7,1382.4 1920.3,1387.5 1924.6,1392.6 1933.1,1394.3 1941.6,1390.9 1949.2,1387.5 1952.6,1390.9 1946.7,1396 1943.3,1402.8 1936.5,1406.2 1929.7,1404.5 1933.1,1411.3 1939.9,1413 1946.7,1418.1 1950.1,1424.9 1955.2,1431.7 1950.1,1438.5 1943.3,1445.4 1950.1,1450.5 1956.9,1456.1 1957,1456.1 1951.5,1447.5 1940.2,1454 1928.8,1455.3 1922,1463.3 1917.4,1469.1 1919.8,1478.1 1917.4,1484.9 1910.8,1480.3 1906.2,1471.3 1899.4,1468.9 1894.8,1478.1 1888,1484.9 1879,1487.1 1872.2,1491.7 1860.8,1489.3 1851.7,1491.7 1842.7,1496.1 1837.3,1499.9 1838.1,1489.7 1830.5,1489.7 1833,1484.6 1828.8,1481.2 1825.4,1476.1 1824.5,1471 1819.4,1467.6 1812.6,1467.6 1805.8,1471 1801.1,1474.4 1799,1465.9 1795.6,1455.7 1792.2,1445.5 1789.3,1440.7 1778.6,1434.4 1768.4,1428.5 1758.7,1423.5 1749.7,1428.5 1741.5,1432.9 1729.3,1429.3 1714.8,1425.9 1708.9,1418.2 1703.9,1410.9 1700.4,1412.8 1695.3,1415.4 1688.5,1415.4 1681.6,1414.5 1674.8,1412.8 1668,1412.3 1661.2,1414 1659.9,1415.2 1658.7,1428.5 1657,1441.7 1651,1444.6 1645.1,1448.9 1640.8,1454 1635.7,1459.1 1631.5,1465.9 1628.9,1476.1 1627.2,1484.6 1627.2,1493.1 1630.6,1499.9 1635.7,1504.1 1642.5,1507.5 1649.3,1512.6 1657.8,1519.5 1665.5,1526.3 1671.4,1532.2 1674.8,1537.3 1668,1539 1661.2,1540.7 1656.1,1537.3 1647.6,1535.6 1639.1,1537.3 1632.3,1535.6 1628.1,1539 1627.2,1544.1 1628.9,1549.2 1626.4,1554.3 1627.2,1561.1 1620.4,1562.8 1615.3,1566.2 1610.2,1567.9 1603.4,1563.8 1596.6,1555.8 1592,1544.5 1588.6,1533.2 1586.3,1521.8 1582.9,1509.4 1577.3,1503.7 1579.5,1498 1585.2,1494.6 1590.9,1487.8 1592,1478.7 1592,1467.4 1588.6,1453.8 1584.1,1442.5 1579.5,1431.1 1572.7,1422.1 1566.6,1415.9 1572.7,1409.6 1577.1,1402.8 1580,1392.6 1577.7,1383.5 1575.5,1363.1 1581.8,1355.8 1590.9,1353.1 1603.4,1353.1 1607.4,1355.2 1609.5,1362.6 1614.7,1365.8 1615.8,1351.8 1615.8,1338.2 1606.8,1334.8 1618.1,1322.3 1613.6,1313.2"/>
<polygon points="1880.7,1488 1892.6,1492.2 1906.2,1499 1918.1,1503.3 1914.7,1507.5 1902.8,1505.8 1889.2,1499 1879,1492.2"/>
<polygon points="1889.2,1486.3 1899.4,1488.8 1911.3,1493.9 1919.8,1499 1918.1,1501.6 1906.2,1496.5 1896,1492.2"/>
<polygon points="866.8,848.9 868.5,853.1 870.2,861.6 875.7,866.7 882.5,870.2 886.7,875.3 887.9,882.1 888.3,880.5 886.3,887.8 881,892 885.2,896.2 889.4,900.4 886.3,907.7 890.4,911.9 895.7,909.8 899.9,904.6 902,908.8 905.1,911.9 903,917.1 898.8,922.4 893.6,928.7 888.3,932.8 885.2,937 881,941.2 887.3,942.3 893.6,941.2 896.7,942.3 888.3,947.5 893.6,949.6 900.9,947.5 905.1,949.6 909.3,952.7 916.6,958 924,964.3 931.3,968.4 936.5,969.5 939.7,974.7 946,970.5 950.1,969.5 949.1,974.7 946,978.9 951.2,980 958.5,976.8 963.8,978.9 969,981 974.2,980 979.5,977.9 985.2,978.9 985.4,972.3 989.3,970.2 994.6,968.1 1001.9,967 1009.2,963.9 1015.5,958.7 1019.7,954.5 1023.9,949.2 1027,945 1026,941.4 1028.1,940.3 1029.7,942.9 1029.1,947.1 1027,951.3 1028.1,954.5 1033.3,960.8 1038.6,967 1041.7,973.3 1044.8,980.7 1049,989 1053.2,999.5 1056.9,1010 1059.5,1017.3 1063.7,1025.7 1067.9,1032 1071,1038.3 1067.9,1042.5 1063.7,1040.4 1059.5,1040.4 1055.3,1043.5 1049,1044.6 1042.8,1043.5 1039.6,1040.4 1043.8,1038.3 1049,1039.3 1053.2,1037.2 1049,1034.1 1043.8,1033 1038.6,1034.1 1033.3,1032 1028.1,1034.1 1022.8,1030.9 1017.6,1028.8 1013.4,1025.7 1011.3,1022.6 1013.4,1018.4 1009.2,1015.2 1005,1017.3 1001.9,1014.2 1004,1008.9 1000.8,1004.8 996.7,1006.9 992.5,1004.8 989.3,1008.9 986.2,1011 985.4,1015.2 985.1,1018.4 979.9,1016.3 973.6,1014.7 968.4,1014.2 963.1,1011 958.9,1006.9 954.8,1000.6 950.6,996.4 944.3,991.1 939,986.9 933.8,983.8 928.6,981.7 923.3,978.6 917,977.5 911.8,975.4 906.6,971.2 900.3,968.1 894,967 886.7,967 881.4,966 877.2,961.8 874.1,958.7 875.7,958.6 865.4,950.1 855.3,943.3 848.4,938.2 845.1,929.7 843.3,921.2 845.1,914.4 840,910.1 834.8,904.1 838.1,909.8 843.3,914 849.6,914 856.9,911.9 862.2,909.8 867.4,904.6 870.5,905.6 874.7,901.4 873.2,894.1 874.7,882.6 874.7,870 870.6,875.3 865.5,872.7 860.4,874.4 857,870.2 862.1,867.6 866.3,865 867.5,859.9 865.8,853.1"/>
</clipPath>
<g clip-path="url(#zc)"><path d="M-476.59 1615L743.41 395M-456.94 1615L763.06 395M-437.30 1615L782.70 395M-417.66 1615L802.34 395M-398.01 1615L821.99 395M-378.37 1615L841.63 395M-358.73 1615L861.27 395M-339.08 1615L880.92 395M-319.44 1615L900.56 395M-299.80 1615L920.20 395M-280.15 1615L939.85 395M-260.51 1615L959.49 395M-240.87 1615L979.13 395M-221.22 1615L998.78 395M-201.58 1615L1018.42 395M-181.93 1615L1038.07 395M-162.29 1615L1057.71 395M-142.65 1615L1077.35 395M-123.00 1615L1097.00 395M-103.36 1615L1116.64 395M-83.72 1615L1136.28 395M-64.07 1615L1155.93 395M-44.43 1615L1175.57 395M-24.79 1615L1195.21 395M-5.14 1615L1214.86 395M14.50 1615L1234.50 395M34.14 1615L1254.14 395M53.79 1615L1273.79 395M73.43 1615L1293.43 395M93.07 1615L1313.07 395M112.72 1615L1332.72 395M132.36 1615L1352.36 395M152.00 1615L1372.00 395M171.65 1615L1391.65 395M191.29 1615L1411.29 395M210.93 1615L1430.93 395M230.58 1615L1450.58 395M250.22 1615L1470.22 395M269.86 1615L1489.86 395M289.51 1615L1509.51 395M309.15 1615L1529.15 395M328.79 1615L1548.79 395M348.44 1615L1568.44 395M368.08 1615L1588.08 395M387.72 1615L1607.72 395M407.37 1615L1627.37 395M427.01 1615L1647.01 395M446.65 1615L1666.65 395M466.30 1615L1686.30 395M485.94 1615L1705.94 395M505.58 1615L1725.58 395M525.23 1615L1745.23 395M544.87 1615L1764.87 395M564.52 1615L1784.52 395M584.16 1615L1804.16 395M603.80 1615L1823.80 395M623.45 1615L1843.45 395M643.09 1615L1863.09 395M662.73 1615L1882.73 395M682.38 1615L1902.38 395M702.02 1615L1922.02 395M721.66 1615L1941.66 395M741.31 1615L1961.31 395M760.95 1615L1980.95 395M780.59 1615L2000.59 395M800.24 1615L2020.24 395M819.88 1615L2039.88 395M839.52 1615L2059.52 395M859.17 1615L2079.17 395M878.81 1615L2098.81 395M898.45 1615L2118.45 395M918.10 1615L2138.10 395M937.74 1615L2157.74 395M957.38 1615L2177.38 395M977.03 1615L2197.03 395M996.67 1615L2216.67 395M1016.31 1615L2236.31 395M1035.96 1615L2255.96 395M1055.60 1615L2275.60 395M1075.24 1615L2295.24 395M1094.89 1615L2314.89 395M1114.53 1615L2334.53 395M1134.17 1615L2354.17 395M1153.82 1615L2373.82 395M1173.46 1615L2393.46 395M1193.10 1615L2413.10 395M1212.75 1615L2432.75 395M1232.39 1615L2452.39 395M1252.04 1615L2472.04 395M1271.68 1615L2491.68 395M1291.32 1615L2511.32 395M1310.97 1615L2530.97 395M1330.61 1615L2550.61 395M1350.25 1615L2570.25 395M1369.90 1615L2589.90 395M1389.54 1615L2609.54 395M1409.18 1615L2629.18 395M1428.83 1615L2648.83 395M1448.47 1615L2668.47 395M1468.11 1615L2688.11 395M1487.76 1615L2707.76 395M1507.40 1615L2727.40 395M1527.04 1615L2747.04 395M1546.69 1615L2766.69 395M1566.33 1615L2786.33 395M1585.97 1615L2805.97 395M1605.62 1615L2825.62 395M1625.26 1615L2845.26 395M1644.90 1615L2864.90 395M1664.55 1615L2884.55 395M1684.19 1615L2904.19 395M1703.83 1615L2923.83 395M1723.48 1615L2943.48 395M1743.12 1615L2963.12 395M1762.76 1615L2982.76 395M1782.41 1615L3002.41 395M1802.05 1615L3022.05 395M1821.69 1615L3041.69 395M1841.34 1615L3061.34 395M1860.98 1615L3080.98 395M1880.62 1615L3100.62 395M1900.27 1615L3120.27 395M1919.91 1615L3139.91 395M1939.56 1615L3159.56 395M1959.20 1615L3179.20 395M1978.84 1615L3198.84 395M1998.49 1615L3218.49 395M2018.13 1615L3238.13 395M2037.77 1615L3257.77 395M2057.42 1615L3277.42 395" stroke="#D2D2D2" stroke-width="4.9" fill="none"/><path d="M-481.96 1615L738.04 395M-462.32 1615L757.68 395M-442.67 1615L777.33 395M-423.03 1615L796.97 395M-403.39 1615L816.61 395M-383.74 1615L836.26 395M-364.10 1615L855.90 395M-344.46 1615L875.54 395M-324.81 1615L895.19 395M-305.17 1615L914.83 395M-285.53 1615L934.47 395M-265.88 1615L954.12 395M-246.24 1615L973.76 395M-226.60 1615L993.40 395M-206.95 1615L1013.05 395M-187.31 1615L1032.69 395M-167.67 1615L1052.33 395M-148.02 1615L1071.98 395M-128.38 1615L1091.62 395M-108.74 1615L1111.26 395M-89.09 1615L1130.91 395M-69.45 1615L1150.55 395M-49.80 1615L1170.20 395M-30.16 1615L1189.84 395M-10.52 1615L1209.48 395M9.13 1615L1229.13 395M28.77 1615L1248.77 395M48.41 1615L1268.41 395M68.06 1615L1288.06 395M87.70 1615L1307.70 395M107.34 1615L1327.34 395M126.99 1615L1346.99 395M146.63 1615L1366.63 395M166.27 1615L1386.27 395M185.92 1615L1405.92 395M205.56 1615L1425.56 395M225.20 1615L1445.20 395M244.85 1615L1464.85 395M264.49 1615L1484.49 395M284.13 1615L1504.13 395M303.78 1615L1523.78 395M323.42 1615L1543.42 395M343.06 1615L1563.06 395M362.71 1615L1582.71 395M382.35 1615L1602.35 395M401.99 1615L1621.99 395M421.64 1615L1641.64 395M441.28 1615L1661.28 395M460.92 1615L1680.92 395M480.57 1615L1700.57 395M500.21 1615L1720.21 395M519.85 1615L1739.85 395M539.50 1615L1759.50 395M559.14 1615L1779.14 395M578.78 1615L1798.78 395M598.43 1615L1818.43 395M618.07 1615L1838.07 395M637.71 1615L1857.71 395M657.36 1615L1877.36 395M677.00 1615L1897.00 395M696.65 1615L1916.65 395M716.29 1615L1936.29 395M735.93 1615L1955.93 395M755.58 1615L1975.58 395M775.22 1615L1995.22 395M794.86 1615L2014.86 395M814.51 1615L2034.51 395M834.15 1615L2054.15 395M853.79 1615L2073.79 395M873.44 1615L2093.44 395M893.08 1615L2113.08 395M912.72 1615L2132.72 395M932.37 1615L2152.37 395M952.01 1615L2172.01 395M971.65 1615L2191.65 395M991.30 1615L2211.30 395M1010.94 1615L2230.94 395M1030.58 1615L2250.58 395M1050.23 1615L2270.23 395M1069.87 1615L2289.87 395M1089.51 1615L2309.51 395M1109.16 1615L2329.16 395M1128.80 1615L2348.80 395M1148.44 1615L2368.44 395M1168.09 1615L2388.09 395M1187.73 1615L2407.73 395M1207.37 1615L2427.37 395M1227.02 1615L2447.02 395M1246.66 1615L2466.66 395M1266.30 1615L2486.30 395M1285.95 1615L2505.95 395M1305.59 1615L2525.59 395M1325.23 1615L2545.23 395M1344.88 1615L2564.88 395M1364.52 1615L2584.52 395M1384.17 1615L2604.17 395M1403.81 1615L2623.81 395M1423.45 1615L2643.45 395M1443.10 1615L2663.10 395M1462.74 1615L2682.74 395M1482.38 1615L2702.38 395M1502.03 1615L2722.03 395M1521.67 1615L2741.67 395M1541.31 1615L2761.31 395M1560.96 1615L2780.96 395M1580.60 1615L2800.60 395M1600.24 1615L2820.24 395M1619.89 1615L2839.89 395M1639.53 1615L2859.53 395M1659.17 1615L2879.17 395M1678.82 1615L2898.82 395M1698.46 1615L2918.46 395M1718.10 1615L2938.10 395M1737.75 1615L2957.75 395M1757.39 1615L2977.39 395M1777.03 1615L2997.03 395M1796.68 1615L3016.68 395M1816.32 1615L3036.32 395M1835.96 1615L3055.96 395M1855.61 1615L3075.61 395M1875.25 1615L3095.25 395M1894.89 1615L3114.89 395M1914.54 1615L3134.54 395M1934.18 1615L3154.18 395M1953.82 1615L3173.82 395M1973.47 1615L3193.47 395M1993.11 1615L3213.11 395M2012.75 1615L3232.75 395M2032.40 1615L3252.40 395M2052.04 1615L3272.04 395" stroke="#6E80AA" stroke-width="3.0" fill="none"/></g>
<polygon class="zoneo" points="1522,427.7 1525.9,423.7 1529.8,421.1 1531.8,415.9 1535,420.5 1540.3,422.4 1544.2,419.8 1549.4,419.8 1548.1,424.4 1553.3,426.4 1558.6,426.4 1559.9,432.2 1554.9,438.1 1553.6,443.3 1562.5,445.3 1559.3,452.5 1560.5,462.9 1563.8,472.7 1558.6,475 1554,470.8 1550.1,468.2 1545.5,473.4 1540.3,479.9 1539,486.5 1537.7,496.9 1535,503.5 1528.5,507.4 1523.3,512.6 1519.4,517.8 1520.7,524.4 1523.3,529.6 1525.9,534.8 1529.8,540 1535,545.3 1537.7,550.5 1542.2,553.8 1536.3,555.7 1539,560.9 1538.3,566.2 1535.7,570.1 1542.2,572.1 1537.7,575.3 1533.7,580.5 1531.1,583.2 1525.9,580.5 1522,576.6 1524.6,572.7 1529.8,570.1 1530.5,563.6 1532.4,559.6 1528.5,555.7 1523.3,554.4 1518.1,553.1 1512.8,553.8 1507.6,555.7 1505,560.9 1503.7,567.5 1499.8,566.2 1499.8,559.6 1501.1,554.4 1498.5,549.2 1494.5,545.3 1489.3,549.2 1484.1,553.1 1478.9,555.1 1481.5,550.5 1481.5,545.3 1484.1,541.3 1481.5,537.4 1486.7,538.1 1491.9,536.1 1494.5,540 1498.5,537.4 1503.7,533.5 1499.8,525.7 1491.9,517.8 1481.5,510 1473.6,502.1 1481.5,494.3 1490.6,485.2 1494.5,478.6 1490,472.7 1487.3,466.2 1481.5,464.3 1478.9,460.3 1474.9,455.1 1469.7,456.4 1465.8,456.4 1463.2,451.2 1464.5,447.3 1467.1,444.7 1471,446 1475.6,448.6 1476.9,453.8 1481.5,459 1487.3,461.6 1490,466.9 1495.8,470.1 1499.1,475.4 1502.4,472.1 1507.6,468.2 1511.5,465.6 1505,460.3 1501.1,458.4 1503.7,457.1 1507.6,460.3 1512.2,462.9 1512.2,460.3 1510.9,455.1 1515.4,452.5 1522,453.1 1523.3,457.7 1520.7,461.6 1525.9,459 1528.5,451.2 1531.1,453.8 1537.7,452.5 1542.9,449.9 1541.6,446 1544.8,442.7 1546.8,447.3 1546.1,452.5 1551.4,451.2 1552.7,443.3 1552.7,438.1 1553.3,432.9 1548.8,434.2 1545.5,431.6 1541.6,428.3 1536.3,429 1531.1,429.6 1527.9,431.6 1525.9,435.5 1523.3,431.6"/>
<polygon class="zoneo" points="1603.7,578.1 1606.3,576.8 1610.9,581.4 1615.5,579.4 1619.4,572.9 1624,574.8 1629.2,575.5 1632.5,570.9 1635.7,572.9 1639.7,574.2 1643.6,576.1 1647.5,574.2 1646.8,580.1 1651.4,582.7 1654,584.6 1649.5,585.9 1644.9,585.3 1643.6,589.2 1647.5,593.1 1652.7,595.7 1657.9,597 1663.2,598.3 1667.1,601.6 1663.2,604.9 1659.3,604.9 1660.6,607.5 1665.8,608.1 1668.4,603.6 1673.6,604.2 1677.5,607.5 1680.2,611.4 1685.4,614 1690,616.6 1688,621.9 1684.1,624.5 1686.7,627.1 1693.2,625.8 1698.5,624.5 1701.1,619.9 1703.7,620.6 1706.9,622.5 1703.7,625.1 1699.8,625.8 1698.5,631 1701.1,638.9 1705,646.7 1707.6,653.2 1710.2,658.5 1714.1,661.1 1715.4,666.3 1720.7,666.3 1725.9,663.7 1728.5,666.3 1731.1,670.2 1733.7,674.1 1735,678.1 1739,682 1741.6,683.3 1746.8,685.9 1750.7,689.8 1753.3,693.7 1752,699 1754.6,702.9 1758.6,706.8 1766.4,712 1775.5,715.9 1786,718.6 1796.5,719.9 1804.3,722.5 1809.5,727.7 1814.7,730.3 1818.7,732.9 1820,738.2 1823.9,743.4 1825.5,744 1829.1,741.4 1833,740.7 1829.1,744 1826.5,747.9 1829.1,751.8 1833,751.8 1830.4,755.7 1829.1,759.7 1831.7,763.6 1835.7,766.2 1831.7,768.8 1831.7,774 1835.7,776.6 1841.5,777.9 1834.3,779.3 1833,784.5 1835.7,788.4 1839.6,792.3 1835.7,793.6 1837,800.2 1831.7,801.5 1830.4,806.7 1825.2,804.1 1821.3,801.5 1817.4,804.1 1820,809.3 1817.4,813.2 1821.3,817.1 1825.2,819.8 1830.4,821.1 1831.7,825 1829.1,828.9 1825.2,827.6 1822.6,832.8 1818.7,836.7 1814.7,832.8 1809.5,835.4 1804.3,839.4 1801.7,836.7 1804.3,830.2 1801.7,823.7 1804.3,818.5 1801.7,813.2 1796.5,811.9 1791.2,814.5 1787.3,817.1 1782.1,813.2 1778.2,809.3 1772.9,810 1770.3,810.6 1763.8,813.2 1761.2,817.1 1758.6,821.1 1754.6,826.3 1756.6,831.5 1753.3,836.7 1752,842 1750.1,847.2 1752,851.1 1755.9,855 1758.6,860.3 1762.5,864.2 1766.4,869.4 1765.1,874.6 1763.8,878.6 1764.4,883.8 1763.8,890.3 1766.4,895.5 1770.3,891.6 1774.9,889 1775.5,894.2 1779.5,896.9 1779.5,902.1 1776.9,906 1772.9,909.9 1770.3,913.8 1769,908.6 1766.4,904.7 1761.2,902.1 1756.6,900.8 1757.3,895.5 1754.6,891.6 1750.7,887.7 1749.4,882.5 1746.8,878.6 1741.6,879.9 1740.3,877.3 1735,874.6 1731.8,872 1729.8,866.8 1727.2,861.6 1723.3,857.7 1719.4,853.7 1718.7,849.8 1722,845.9 1719.4,844.6 1712.2,844.6 1712.8,835.4 1714.8,834.8 1713.5,839.4 1714.1,842 1723.3,840.7 1723.9,835.4 1723.3,830.2 1724.6,825 1724.6,821.1 1719.4,819.8 1712.8,818.5 1706.3,819.8 1703.7,823 1698.5,820.4 1691.9,818.5 1695.8,815.8 1697.1,810.6 1702.4,813.2 1707.6,814.5 1712.8,813.2 1715.4,809.3 1718.1,813.2 1722,814.5 1725.9,815.8 1727.2,809.3 1728.5,801.5 1729.8,789.7 1731.8,784.5 1729.2,780.6 1728.5,775.3 1725.9,770.1 1720.7,768.8 1723.3,766.2 1720.7,762.3 1717.4,759.7 1719.4,754.4 1718.1,750.5 1712.8,745.9 1707.6,746.6 1713.5,744 1710.2,740.1 1705,737.4 1703.7,733.5 1699.8,729.6 1694.5,730.9 1693.2,727 1692.6,729 1694.5,723.8 1691.9,717.3 1688,710.7 1684.1,704.2 1681.5,701.6 1684.1,699 1681.5,693.7 1678.9,691.1 1676.2,688.5 1673.6,691.1 1668.4,693.7 1663.2,695 1657.3,700.3 1660.6,697.7 1664.5,693.7 1668.4,689.8 1673.6,685.9 1668.4,684.6 1663.2,683.3 1660.6,680.7 1655.3,678.1 1651.4,683.3 1644.9,687.2 1647.5,683.3 1644.9,679.4 1639.7,680.7 1634.4,684.6 1633.1,679.4 1629.2,680.7 1625.9,678.1 1624.6,671.5 1621.4,667.6 1619.4,661.1 1618.7,654.5 1617.4,648 1618.1,641.5 1614.2,638.9 1616.1,633.6 1618.1,628.4 1615.5,623.2 1610.9,621.9 1612.2,620.6 1611.6,615.3 1610.9,610.1 1613.5,606.2 1614.2,599.7 1612.2,594.4 1609.6,589.2 1607,584 1603.1,581.4"/>
<polygon class="zoneo" points="1133.5,751.8 1140.3,756.1 1147.1,754.4 1153.9,756.1 1157.3,761.2 1167.5,761.2 1174.3,757.8 1172.6,751.8 1176.9,754.4 1177.7,764.6 1179.4,773.1 1181.1,781.6 1187.9,779.9 1195.1,775.6 1201.5,769.7 1213.4,766.3 1208.3,775.6 1199.8,783.3 1195.6,791.8 1193,800.3 1196.4,807.1 1201.5,804.6 1204.9,810.5 1198.1,815.6 1195.6,824.1 1193,834.3 1188.8,841.1 1187.1,849.6 1193.9,856.4 1196.4,863.2 1201.5,866.6 1198.1,875.1 1195.6,881.9 1198.1,888.8 1194.7,896.1 1192.1,886.1 1188.2,882.9 1182.9,879.6 1175.1,880.9 1169.9,884.8 1168.6,890.1 1167.9,895.3 1165.9,888.1 1160.7,884.8 1154.2,881.6 1147.7,878.9 1142.4,875.7 1135.9,872.4 1129.4,865.9 1123.3,861.5 1119,857.3 1113.1,859.8 1104.6,861.5 1096.1,864.9 1091,865.8 1091.8,859.8 1094.4,853 1099.5,846.2 1106.3,839.4 1113.1,834.3 1118.2,827.5 1122.4,820.7 1125.8,813.9 1123.3,807.1 1121.6,800.3 1123.3,795.2 1127.5,790.1 1130.1,783.3 1136.1,778.2 1137.8,773.1 1137.8,766.3 1140.3,761.2 1137.8,756.1"/>
<polygon class="zoneo" points="1283.2,878.4 1284.5,873.2 1288.5,867.9 1295,866.6 1301.5,870.6 1305.4,867.9 1310.7,865.3 1313.3,858.8 1318.5,857.5 1322.4,862.7 1327.7,861.4 1332.9,865.3 1336.8,864 1340.7,866.6 1345.9,865.3 1349.9,867.9 1355.1,871.2 1362.9,870.6 1369.5,870.6 1365.5,874.5 1361.6,878.4 1362.9,883.6 1364.2,886.2 1357.7,886.2 1353.8,883.6 1347.3,884.9 1340.7,882.3 1336.8,883.6 1332.9,886.2 1327.7,890.2 1327.7,895.4 1322.4,899.3 1317.2,898 1313.3,899.3 1315.9,894.1 1310.7,890.2 1306.7,896.7 1305.4,891.5 1300.2,892.8 1295,890.2 1291.1,894.1 1288.5,890.2 1284.5,884.9"/>
<polygon class="zoneo" points="1281.9,857.5 1283.2,849.7 1288.5,843.1 1295,839.2 1300.2,840.5 1295,843.1 1291.1,848.3 1288.5,854.9 1288.5,861.4 1291.1,866.6 1285.8,867.9 1283.2,862.7"/>
<polygon class="zoneo" points="1312,857.5 1313.3,849.7 1315.9,843.1 1319.8,837.9 1323.7,832.7 1327.7,834 1323.7,839.2 1321.1,845.7 1318.5,852.3 1317.2,857.5"/>
<polygon class="zoneo" points="1321.1,807.8 1323.7,813.1 1325,818.3 1322.4,823.5 1318.5,820.9 1319.8,814.4"/>
<polygon class="zoneo" points="1327.7,849.7 1332.9,848.3 1339.4,851 1342.7,853.6 1336.8,853.6 1331.6,852.3"/>
<polygon class="zoneo" points="1332.9,810.5 1336.8,807.8 1338.8,814.4 1342,819.6 1348.6,826.1 1349.9,834 1351.2,841.8 1347.3,840.5 1344.6,834 1340.7,828.7 1336.8,823.5 1334.2,817"/>
<polygon class="zoneo" points="1227,852.3 1229.7,847 1234.9,840.5 1241.4,836.6 1247.9,837.9 1250.6,841.8 1245.3,844.4 1238.8,845.7 1232.3,849.7"/>
<polygon class="zoneo" points="1199.6,874.5 1203.5,865.3 1210.1,861.4 1216.6,856.2 1223.1,849.7 1224.4,852.3 1219.2,858.8 1212.7,864 1208.7,869.3 1203.5,874.5"/>
<polygon class="zoneo" points="1197,917.6 1200.9,912.4 1206.1,907.1 1211.4,908.5 1216.6,911.1 1222.5,912.4 1219.2,916.3 1221.8,919.6 1216.6,922.8 1211.4,927.4 1208.7,925.4 1210.1,921.5 1204.8,921.5 1199.6,924.1 1197,922.8"/>
<polygon class="zoneo" points="1197,809.1 1202.2,807.8 1210.1,811.8 1208.7,814.4 1203.5,815.7 1198.3,814.4"/>
<polygon class="zoneo" points="1350.7,904.6 1355.8,899.5 1360.9,896.1 1362.6,902.1 1367.7,905.5 1371.1,911.4 1377.9,909.7 1383,908.9 1381.3,914.8 1386.4,919.1 1393.2,919.9 1394.9,925 1400,928.5 1404.3,935.3 1405.1,942.1 1400,940.4 1394.9,935.3 1388.1,932.7 1381.3,928.5 1376.2,931.9 1371.1,938.7 1366,945.5 1360.9,954 1366,959.1 1371.1,964.2 1374.5,971 1375.4,976.1 1369.4,981.2 1362.6,984.6 1357.5,988 1349,986.3 1342.2,990.5 1345.6,984.6 1350.7,981.2 1345.6,976.1 1343.1,970.1 1347.3,959.1 1352.4,950.6 1356.7,942.1 1362.6,935.3 1367.7,930.2 1366.9,919.9 1364.3,913.1 1359.2,908"/>
<polygon class="zoneo" points="1406,942.1 1410.2,932.7 1417.1,933.2 1413.7,940.4 1412.8,948.9 1418.8,959.1 1429,969.3 1437.5,974.4 1442.6,981.2 1452.8,980.3 1454.5,984.6 1447.7,988 1449.4,993.1 1456.2,998.2 1457.9,1005 1461.3,1011.8 1466.4,1020.3 1469.8,1025.4 1473.2,1028.8 1464.7,1033.9 1466.4,1040.7 1471.5,1049.2 1469.8,1057.7 1476.6,1064.5 1478.3,1073 1480,1081.5 1481.7,1090 1483.4,1098.5 1488.5,1107.1 1491.9,1116.1 1498.9,1120 1507.4,1120.8 1509.1,1129.3 1507.4,1137.8 1502.3,1144.6 1498.9,1151.4 1496.3,1159.9 1493.8,1168.5 1494.6,1177 1495.5,1183.8 1498.9,1188.9 1495.5,1193.1 1493.8,1195.7 1498.9,1202.5 1504,1205.9 1510.8,1209.3 1510.8,1216.1 1509.1,1222.9 1511.6,1229.7 1519.3,1230.5 1524.4,1226.3 1527.8,1225.4 1525.2,1229.7 1519.3,1232.2 1512.5,1233.1 1505.7,1234.8 1498.9,1236.5 1496.3,1241.6 1493.8,1236.5 1490.4,1229.7 1487,1228 1481.9,1229.7 1478.5,1224.6 1473.3,1222 1470.8,1226.3 1473.3,1233.1 1476.7,1237.3 1471.6,1239.9 1464.8,1243.3 1460.6,1246.7 1454.6,1241.6 1447.8,1243.3 1442.7,1245.8 1439.3,1239.9 1434.2,1236.5 1429.1,1239.9 1424,1236.5 1418.9,1234.8 1415.5,1238.2 1417.2,1243.3 1412.1,1246.7 1407,1250.1 1403.6,1248.4 1397.2,1251.1 1393,1249.4 1388.7,1242.6 1383.6,1237.5 1385.3,1230.7 1382.7,1223.9 1383.6,1215.4 1381.9,1206.9 1385.3,1200.1 1381.9,1193.6 1388.7,1191.6 1395.5,1195.8 1402.3,1197.5 1405.4,1200.1 1407,1199.1 1413.8,1202.5 1420.6,1205.9 1427.4,1209.3 1432.5,1207.6 1434.2,1202.5 1430.8,1199.1 1425.7,1195.7 1422.3,1190.6 1424,1185.5 1427.4,1188.9 1432.5,1192.3 1439.3,1190.6 1438.5,1185.5 1435.9,1178.7 1435.1,1170.2 1434.2,1161.6 1435.9,1154.8 1441,1152.3 1446.1,1153.1 1449.5,1158.2 1450.4,1165 1452.9,1170.2 1458,1168.5 1459.7,1163.3 1461.4,1156.5 1458,1149.7 1461.4,1144.6 1459.7,1137.8 1463.1,1131 1464.8,1122.5 1466.5,1114 1464.8,1107.2 1461.3,1105.4 1457.9,1095.1 1461.3,1086.6 1456.2,1078.1 1454.5,1067.9 1446,1059.4 1439.2,1049.2 1432.4,1035.6 1425.6,1025.4 1418.8,1018.6 1411.9,1013.5 1408.5,1006.7 1409.4,993.1 1406.8,979.5 1408.5,965.9 1406,952.3"/>
<polygon class="zoneo" points="1383,998.2 1388.1,996.5 1394.9,998.2 1401.7,995.6 1404.6,996.5 1404.6,1007.5 1400,1010.1 1394.9,1008.4 1389.8,1003.3 1385.6,1000.7"/>
<polygon class="zoneo" points="1384.7,1026.3 1391.5,1022 1398.3,1022.9 1404.6,1020.3 1404.6,1030.5 1398.3,1032.2 1394.9,1028.8 1388.1,1029.7"/>
<polygon class="zoneo" points="1387.3,1050.9 1391.5,1042.4 1398.3,1037.3 1403.4,1039 1401.7,1045.8 1394.9,1050.9 1388.1,1052.6"/>
<polygon class="zoneo" points="1658.8,1115.7 1662.2,1114 1665.6,1124.2 1669,1132.7 1670.7,1144.6 1672.4,1154.8 1674.1,1165 1673.2,1175.3 1675.8,1182.1 1677.5,1188.9 1675.8,1195.7 1682.6,1202.5 1686,1212.7 1689.4,1221.2 1692.8,1228 1693.6,1236.5 1694.5,1243.3 1689.4,1243.3 1684.3,1238.2 1682.6,1229.7 1677.5,1226.3 1674.1,1229.7 1670.7,1233.1 1669,1239.9 1672.4,1246.7 1679.2,1251.8 1682.6,1256.9 1679.2,1267.1 1675.8,1280.7 1670.7,1289.2 1665.6,1289.2 1663.9,1275.6 1662.2,1263.7 1660.5,1256.9 1658.8,1250.1 1662.2,1243.3 1660.5,1238.2 1663.9,1233.1 1662.2,1228 1668.1,1224.6 1666.4,1216.1 1663.9,1207.6 1662.2,1199.1 1663,1190.6 1661.3,1183.8 1660.5,1175.3 1656.2,1170.2 1653.7,1163.3 1655.4,1156.5 1657.1,1149.7 1656.2,1141.2 1657.9,1132.7 1657.1,1124.2"/>
<polygon class="zoneo" points="1760.8,1090.2 1769.3,1102.1 1764.2,1114 1757.4,1124.2 1752.3,1136.1 1754,1148 1755.7,1158.2 1754,1166.7 1745.5,1165 1743.8,1154.8 1746.4,1144.6 1747.2,1136.1 1748.9,1122.5 1755.7,1110.6 1758.3,1098.7"/>
<polygon class="zoneo" points="1740.4,1243.3 1744.7,1241.6 1747.2,1248.4 1752.3,1253.5 1759.1,1256.9 1754,1260.3 1747.2,1258.6 1743,1251.8"/>
<polygon class="zoneo" points="1616.3,1308 1616.2,1307.9 1618.8,1304.5 1628.1,1301.1 1634.9,1304.5 1640,1301.1 1648.5,1297.7 1657.1,1294.3 1665.6,1289.2 1669,1284.1 1670.7,1292.6 1669,1299.4 1675.8,1301.1 1684.3,1300.3 1692.8,1302.8 1699.6,1307.9 1706.4,1311.3 1713.2,1309.6 1718.3,1314.7 1721.7,1318.1 1728.5,1309.6 1733.6,1307.9 1740.4,1304.5 1745.5,1299.4 1750.6,1294.3 1755.7,1289.2 1760.8,1284.1 1767.6,1280.7 1774.4,1275.6 1780,1272.7 1785.1,1268.5 1789.4,1251.4 1792.8,1231 1792.2,1214 1793.6,1200.4 1795.6,1214 1795.6,1231 1794.5,1248 1797,1251.4 1798.7,1258.2 1803.8,1265 1810.6,1271.9 1816.6,1282.1 1820.8,1290.6 1825.6,1288.9 1830.2,1277 1834.4,1282.1 1839.5,1288.9 1847.2,1282.1 1846.3,1290.6 1851.4,1297.4 1856.5,1305.9 1859.9,1314.4 1863.3,1309.3 1866.7,1302.5 1872.7,1298.2 1878.7,1299.9 1875.3,1305.9 1873.6,1312.7 1877.8,1317.8 1875.3,1324.6 1882.1,1328 1888.9,1331.4 1892.3,1336.5 1899.1,1338.2 1906.7,1337.3 1902.5,1343.3 1897.4,1345.8 1900.8,1351.8 1904.2,1355.2 1909.3,1358.6 1916.1,1353.5 1922.9,1351.8 1916.1,1358.6 1912.7,1365.4 1914.4,1372.2 1919.5,1379 1924.6,1375.6 1923.7,1382.4 1920.3,1387.5 1924.6,1392.6 1933.1,1394.3 1941.6,1390.9 1949.2,1387.5 1952.6,1390.9 1946.7,1396 1943.3,1402.8 1936.5,1406.2 1929.7,1404.5 1933.1,1411.3 1939.9,1413 1946.7,1418.1 1950.1,1424.9 1955.2,1431.7 1950.1,1438.5 1943.3,1445.4 1950.1,1450.5 1956.9,1456.1 1957,1456.1 1951.5,1447.5 1940.2,1454 1928.8,1455.3 1922,1463.3 1917.4,1469.1 1919.8,1478.1 1917.4,1484.9 1910.8,1480.3 1906.2,1471.3 1899.4,1468.9 1894.8,1478.1 1888,1484.9 1879,1487.1 1872.2,1491.7 1860.8,1489.3 1851.7,1491.7 1842.7,1496.1 1837.3,1499.9 1838.1,1489.7 1830.5,1489.7 1833,1484.6 1828.8,1481.2 1825.4,1476.1 1824.5,1471 1819.4,1467.6 1812.6,1467.6 1805.8,1471 1801.1,1474.4 1799,1465.9 1795.6,1455.7 1792.2,1445.5 1789.3,1440.7 1778.6,1434.4 1768.4,1428.5 1758.7,1423.5 1749.7,1428.5 1741.5,1432.9 1729.3,1429.3 1714.8,1425.9 1708.9,1418.2 1703.9,1410.9 1700.4,1412.8 1695.3,1415.4 1688.5,1415.4 1681.6,1414.5 1674.8,1412.8 1668,1412.3 1661.2,1414 1659.9,1415.2 1658.7,1428.5 1657,1441.7 1651,1444.6 1645.1,1448.9 1640.8,1454 1635.7,1459.1 1631.5,1465.9 1628.9,1476.1 1627.2,1484.6 1627.2,1493.1 1630.6,1499.9 1635.7,1504.1 1642.5,1507.5 1649.3,1512.6 1657.8,1519.5 1665.5,1526.3 1671.4,1532.2 1674.8,1537.3 1668,1539 1661.2,1540.7 1656.1,1537.3 1647.6,1535.6 1639.1,1537.3 1632.3,1535.6 1628.1,1539 1627.2,1544.1 1628.9,1549.2 1626.4,1554.3 1627.2,1561.1 1620.4,1562.8 1615.3,1566.2 1610.2,1567.9 1603.4,1563.8 1596.6,1555.8 1592,1544.5 1588.6,1533.2 1586.3,1521.8 1582.9,1509.4 1577.3,1503.7 1579.5,1498 1585.2,1494.6 1590.9,1487.8 1592,1478.7 1592,1467.4 1588.6,1453.8 1584.1,1442.5 1579.5,1431.1 1572.7,1422.1 1566.6,1415.9 1572.7,1409.6 1577.1,1402.8 1580,1392.6 1577.7,1383.5 1575.5,1363.1 1581.8,1355.8 1590.9,1353.1 1603.4,1353.1 1607.4,1355.2 1609.5,1362.6 1614.7,1365.8 1615.8,1351.8 1615.8,1338.2 1606.8,1334.8 1618.1,1322.3 1613.6,1313.2"/>
<polygon class="zoneo" points="1880.7,1488 1892.6,1492.2 1906.2,1499 1918.1,1503.3 1914.7,1507.5 1902.8,1505.8 1889.2,1499 1879,1492.2"/>
<polygon class="zoneo" points="1889.2,1486.3 1899.4,1488.8 1911.3,1493.9 1919.8,1499 1918.1,1501.6 1906.2,1496.5 1896,1492.2"/>
<polygon class="zoneo" points="866.8,848.9 868.5,853.1 870.2,861.6 875.7,866.7 882.5,870.2 886.7,875.3 887.9,882.1 888.3,880.5 886.3,887.8 881,892 885.2,896.2 889.4,900.4 886.3,907.7 890.4,911.9 895.7,909.8 899.9,904.6 902,908.8 905.1,911.9 903,917.1 898.8,922.4 893.6,928.7 888.3,932.8 885.2,937 881,941.2 887.3,942.3 893.6,941.2 896.7,942.3 888.3,947.5 893.6,949.6 900.9,947.5 905.1,949.6 909.3,952.7 916.6,958 924,964.3 931.3,968.4 936.5,969.5 939.7,974.7 946,970.5 950.1,969.5 949.1,974.7 946,978.9 951.2,980 958.5,976.8 963.8,978.9 969,981 974.2,980 979.5,977.9 985.2,978.9 985.4,972.3 989.3,970.2 994.6,968.1 1001.9,967 1009.2,963.9 1015.5,958.7 1019.7,954.5 1023.9,949.2 1027,945 1026,941.4 1028.1,940.3 1029.7,942.9 1029.1,947.1 1027,951.3 1028.1,954.5 1033.3,960.8 1038.6,967 1041.7,973.3 1044.8,980.7 1049,989 1053.2,999.5 1056.9,1010 1059.5,1017.3 1063.7,1025.7 1067.9,1032 1071,1038.3 1067.9,1042.5 1063.7,1040.4 1059.5,1040.4 1055.3,1043.5 1049,1044.6 1042.8,1043.5 1039.6,1040.4 1043.8,1038.3 1049,1039.3 1053.2,1037.2 1049,1034.1 1043.8,1033 1038.6,1034.1 1033.3,1032 1028.1,1034.1 1022.8,1030.9 1017.6,1028.8 1013.4,1025.7 1011.3,1022.6 1013.4,1018.4 1009.2,1015.2 1005,1017.3 1001.9,1014.2 1004,1008.9 1000.8,1004.8 996.7,1006.9 992.5,1004.8 989.3,1008.9 986.2,1011 985.4,1015.2 985.1,1018.4 979.9,1016.3 973.6,1014.7 968.4,1014.2 963.1,1011 958.9,1006.9 954.8,1000.6 950.6,996.4 944.3,991.1 939,986.9 933.8,983.8 928.6,981.7 923.3,978.6 917,977.5 911.8,975.4 906.6,971.2 900.3,968.1 894,967 886.7,967 881.4,966 877.2,961.8 874.1,958.7 875.7,958.6 865.4,950.1 855.3,943.3 848.4,938.2 845.1,929.7 843.3,921.2 845.1,914.4 840,910.1 834.8,904.1 838.1,909.8 843.3,914 849.6,914 856.9,911.9 862.2,909.8 867.4,904.6 870.5,905.6 874.7,901.4 873.2,894.1 874.7,882.6 874.7,870 870.6,875.3 865.5,872.7 860.4,874.4 857,870.2 862.1,867.6 866.3,865 867.5,859.9 865.8,853.1"/>
<polygon class="hole" points="1637,655.8 1642.3,661.1 1647.5,663.7 1651.4,667.6 1655.3,671.5 1659.3,670.2 1661.9,668.9 1660.6,672.8 1657.9,675.4 1660.6,679.4 1664.5,682 1671,683.3 1674.9,680.7 1676.2,676.7 1680.2,675.4 1682.8,672.8 1681.5,667.6 1678.9,662.4 1676.2,658.5 1673.6,655.8 1668.4,654.5 1661.9,653.2 1652.7,653.2 1644.9,653.9"/>
<polygon class="hole" points="1691.9,683.3 1697.1,682 1701.1,685.9 1703.7,691.1 1705,695 1701.1,696.3 1695.8,695 1691.9,691.1 1690,687.2"/>
<polygon class="hole" points="1733.1,684.6 1737.7,683.3 1740.3,688.5 1739,693.7 1735,692.4 1733.1,688.5"/>
<polygon class="hole" points="1629.2,668.9 1634.4,668.3 1635.7,672.8 1631.8,675.4 1628.5,673.5"/>
<polygon class="hole" points="1716.7,724.4 1720.7,722.4 1733.7,723.1 1740.3,727 1744.2,733.5 1746.8,741.4 1750.7,749.2 1752,754.4 1746.8,755.7 1741.6,751.8 1736.3,746.6 1732.4,740.1 1729.8,734.8 1725.9,730.9 1720.7,729.6"/>
<polygon class="hole" points="1746.1,761 1752,759.7 1755.9,762.3 1759.9,767.5 1765.1,774 1770.3,779.3 1774.2,783.2 1772.9,787.1 1767.7,784.5 1762.5,780.6 1758.6,775.3 1753.3,771.4 1749.4,767.5 1746.8,764.9"/>
<polygon class="hole" points="1796.5,761.6 1801.7,764.9 1805.6,771.4 1807.6,779.3 1806.9,784.5 1803,783.2 1797.8,783.2 1793.2,785.1 1792.5,780.6 1795.8,775.3 1796.5,768.8"/>
<polygon class="hole" points="1730.5,838.1 1735,835.4 1740.3,837.4 1745.5,840.7 1746.8,847.2 1744.2,853.7 1740.3,859 1735,857.7 1731.1,852.4 1729.8,844.6"/>
<polygon class="hole" points="1150.5,778.2 1157.3,774.8 1163.3,777.3 1161.6,785.8 1155.6,790.1 1149.7,787.5"/>
<polygon class="hole" points="1135.2,839.4 1142.9,836 1145.4,844.5 1140.3,851.3 1135.2,847.9"/>
<polygon class="hole" points="1155.6,863.2 1161.6,859.8 1164.1,866.6 1159.9,871.7 1155.6,869.2"/>
<polygon class="hole" points="1146.3,855.6 1151.4,854.7 1150.5,859 1146.8,859"/>
<polygon class="hole" points="1181.1,847.9 1186.2,844.5 1188.8,851.3 1184.5,856.4 1181.1,853"/>
<polygon class="hole" points="1133.3,862.6 1138.5,861.3 1142.4,865.2 1141.1,870.5 1135.9,871.1 1132.6,867.2"/>
<polygon class="hole" points="1163.3,871.1 1169.9,869.8 1175.1,872.4 1172.5,876.3 1165.9,876.3"/>
<polygon class="hole" points="1182.9,862 1188.2,861.3 1190.1,865.2 1186.9,868.1 1182.9,866.5"/>
<polygon class="hole" points="1840.4,1324.6 1845.5,1322.9 1851.4,1329.7 1859.9,1339.9 1868.5,1348.4 1875.3,1356.9 1882.1,1365.4 1888.9,1375.6 1892.3,1384.1 1899.1,1394.3 1902.5,1404.5 1906.7,1414.7 1907.6,1421.5 1902.5,1418.1 1897.4,1409.6 1890.6,1401.1 1883.8,1392.6 1877,1384.1 1871.9,1377.3 1865,1367.1 1859.9,1358.6 1854.8,1350.1 1848,1341.6 1842.9,1333.1"/>
<polygon class="hole" points="1687.6,1363 1695.3,1360.4 1702.1,1367.2 1710.6,1377.4 1719.1,1389.3 1725.9,1399.5 1727.6,1405.5 1722.5,1403.8 1715.7,1396.1 1708.9,1389.3 1702.1,1380.8 1695.3,1374 1689.3,1369.8"/>
<polygon class="hole" points="1836.1,1370.5 1848,1363.7 1854.8,1372.2 1848,1377.3 1841.2,1379"/>
<polygon class="hole" points="1838.1,1370.6 1846.6,1365.5 1853.4,1372.3 1844.9,1377.4"/>
<polygon class="hole" points="1783.7,1374 1792.2,1368.9 1793.9,1379.1 1787.1,1384.2"/>
<polygon class="hole" points="1843.2,1452.3 1851.7,1448.9 1858.5,1452.3 1865.4,1457.4 1861.9,1464.2 1855.1,1469.3 1850,1462.5 1843.2,1459.1"/>
<polygon class="hole" points="1842.7,1453.2 1858.5,1448.6 1867.6,1453.2 1865.4,1464.5 1856.3,1469 1847.2,1462.2"/>
<polygon class="hole" points="1665.7,1299.6 1674.8,1292.8 1686.1,1295.1 1697.5,1306.4 1702,1310.9 1692.9,1308.7 1683.9,1304.1 1672.5,1301.9"/>
<polygon class="hole" points="1725,1459.1 1731,1457.7 1736.1,1461.6 1735.2,1467.6 1729.3,1469.3 1725,1466.2"/>
<polygon class="hole" points="1668,1542.4 1674.8,1535.6 1685,1535.6 1692.7,1542.4 1693.9,1551.8 1688.5,1557.4 1679.9,1554.7 1673.1,1550.9 1668.9,1548.4"/>
<polygon class="hole" points="1585,1363.1 1590.9,1360.8 1597.7,1362.6 1602.7,1364.9 1603.6,1373.3 1601.3,1381.2 1597.7,1388 1590.9,1388.5 1585.4,1385.8 1583.6,1376.7 1581.4,1369.4"/>
<polygon class="hole" points="1555.1,1376.7 1559.1,1370.4 1568.2,1369.4 1575,1374.4 1576.8,1383.5 1572.7,1392.6 1565.9,1395.5 1559.1,1392.6 1555.7,1385.8"/>
<polygon class="hole" points="1427.3,988 1430.7,989.7 1434.1,998.2 1435.8,1007.5 1432.4,1008.4 1429,999.9"/>
<polygon class="hole" points="990.4,973.3 996.7,972.3 1002.9,975.4 1007.1,981.7 1013.4,983.8 1019.7,982.8 1021.8,988 1017.6,992.2 1011.3,991.1 1005,994.3 999.8,991.1 994.6,985.9 990.4,981.7"/>
<polygon class="hole" points="1013.4,1000.6 1019.7,998.5 1026,1000.6 1028.1,1005.8 1023.9,1010 1017.6,1008.9 1013.4,1005.8"/>
</g>
<g id="lagoons">
<polygon class="lag" points="884,765.8 887.1,764.1 890.5,768.3 891.3,775.1 893.5,782.8 892.2,786.2 887.9,781.9 881.9,776.8 882.8,773.4"/>
<polygon class="lag" points="1668,1376.6 1674.8,1370.3 1679.9,1374 1685,1376.6 1688.5,1373.2 1691.9,1376.6 1697,1382.5 1703.8,1390.2 1708.9,1397 1705.5,1404.6 1702.1,1411.4 1695.3,1415.7 1688.5,1414.8 1681.6,1413.1 1674.8,1411.4 1668,1410.6 1661.2,1412.3 1656.1,1409.7 1649.3,1408 1644.2,1404.6 1651,1401.2 1659.5,1397.8 1665.5,1392.7 1671.4,1389.3 1674.8,1384.2 1671.4,1380.8"/>
<polygon class="lag" points="1645.9,1385.1 1651,1381.7 1655.8,1383.9 1654.1,1389 1649.3,1391 1645.9,1389.3"/>
<polygon class="lag" points="1661.2,1376.6 1668,1372.3 1673.1,1374 1669.7,1380.8 1664.6,1383.4 1661.2,1380.8"/>
<polygon class="lag" points="1617,1481.2 1627.2,1480.3 1626.4,1489.7 1628.1,1498.2 1633.2,1503.3 1617,1504.1"/>
<polygon class="lag" points="1677.4,1546.7 1680.8,1543.8 1684.7,1545.8 1685,1550.9 1681.6,1553.5 1678.2,1551.8"/>
<polyline points="1685.9,1414.8 1687.4,1427.4 1689,1440 1692.9,1450.2 1696.1,1459.6 1697.6,1465 1707,1467.4 1722.6,1467.4" fill="none" stroke="#666" stroke-width="1.6" stroke-linejoin="round"/>
<polyline points="1735.2,1466.6 1741.5,1465.9" fill="none" stroke="#666" stroke-width="1.6" stroke-linejoin="round"/>
<polyline points="1747,1466.6 1753.3,1466.6 1760.4,1471.3 1767.4,1476.8 1771.3,1483.1 1774.5,1487 1777.6,1490.2 1780.8,1494.1" fill="none" stroke="#666" stroke-width="1.6" stroke-linejoin="round"/>
<polyline points="1785.4,1490.2 1788.6,1484.6 1793.2,1480 1798.7,1475.2 1801.1,1474" fill="none" stroke="#666" stroke-width="1.6" stroke-linejoin="round"/>
<polygon class="land" points="1725,1459.1 1731,1457.7 1736.1,1461.6 1735.2,1467.6 1729.3,1469.3 1725,1466.2"/>
<polygon class="land" points="1725.9,1437.6 1733.7,1437.6 1730.5,1443.9 1728.9,1450.2 1728.3,1458 1724.3,1459.6 1722.6,1454.8 1725,1448.5 1726.6,1442.4"/>
<polygon class="land" points="1772.8,1486.3 1776.1,1486.3 1780.6,1492.6 1783,1496.5 1782.3,1501.9 1779.1,1502.6 1773.7,1501.1 1775.2,1497.2 1776.1,1492.6"/>
<polygon class="land" points="1693.2,1450.6 1695.3,1452.3 1697.8,1464.2 1696.1,1465 1694.4,1459.1"/>
</g>
<g id="grid">
<rect class="grid" x="1405.5" y="410.5" width="210" height="158"/>
<rect class="grid" x="1615.5" y="562.5" width="210" height="158"/>
<rect class="grid" x="985.5" y="720.5" width="210" height="157"/>
<rect class="grid" x="1195.5" y="720.5" width="210" height="157"/>
<rect class="grid" x="1615.5" y="720.5" width="210" height="157"/>
<rect class="grid" x="774.5" y="877.5" width="211" height="158"/>
<rect class="grid" x="985.5" y="877.5" width="210" height="158"/>
<rect class="grid" x="1195.5" y="877.5" width="210" height="158"/>
<rect class="grid" x="1405.5" y="877.5" width="210" height="158"/>
<rect class="grid" x="1615.5" y="877.5" width="210" height="158"/>
<rect class="grid" x="1405.5" y="1035.5" width="210" height="158"/>
<rect class="grid" x="1615.5" y="1035.5" width="210" height="158"/>
<rect class="grid" x="1195.5" y="1193.5" width="210" height="157"/>
<rect class="grid" x="1405.5" y="1193.5" width="210" height="157"/>
<rect class="grid" x="1615.5" y="1193.5" width="210" height="157"/>
<rect class="grid" x="1825.5" y="1193.5" width="210" height="157"/>
<rect class="grid" x="1405.5" y="1350.5" width="210" height="158"/>
<rect class="grid" x="1615.5" y="1350.5" width="210" height="158"/>
<rect class="grid" x="1825.5" y="1350.5" width="210" height="158"/>
</g>
<g id="labels">
<text class="mg" x="1508.6" y="500.4">02000-44100</text>
<text class="mg" x="1718.6" y="652.4">02200-43950</text>
<text class="mg" x="1088.6" y="809.9">01600-43800</text>
<text class="mg" x="1298.6" y="809.9">01800-43800</text>
<text class="mg" x="1718.6" y="809.9">02200-43800</text>
<text class="mg" x="878.1" y="967.4">01400-43650</text>
<text class="mg" x="1088.6" y="967.4">01600-43650</text>
<text class="mg" x="1298.6" y="967.4">01800-43650</text>
<text class="mg" x="1508.6" y="967.4">02000-43650</text>
<text class="mg" x="1718.6" y="967.4">02200-43650</text>
<text class="mg" x="1508.6" y="1125.4">02000-43500</text>
<text class="mg" x="1718.6" y="1125.4">02200-43500</text>
<text class="mg" x="1298.6" y="1282.9">01800-43350</text>
<text class="mg" x="1508.6" y="1282.9">02000-43350</text>
<text class="mg" x="1718.6" y="1282.9">02200-43350</text>
<text class="mg" x="1928.6" y="1282.9">02400-43350</text>
<text class="mg" x="1508.6" y="1440.4">02000-43200</text>
<text class="mg" x="1718.6" y="1440.4">02200-43200</text>
<text class="mg" x="1928.6" y="1440.4">02400-43200</text>
<text class="rk" x="1434.9" y="527.2">GR05RAK0010</text>
<text class="rk" x="1667.0" y="717.9">GR05RAK0009</text>
<text class="rk" x="1086.4" y="836.6">GR05RAK0008</text>
<text class="rk" x="1240.3" y="836.6">GR05RAK0007</text>
<text class="rk" x="802.6" y="932.6">GR05RAK0006</text>
<text class="rk" x="946.0" y="1002.0">GR05RAK0004</text>
<text class="rk" x="1367.1" y="1022.9">GR05RAK0005</text>
<text class="rk" x="1675.5" y="1154.0">GR05RAK0001</text>
<text class="rk" x="1690.9" y="1357.2">GR05RAK0003</text>
<text class="rk" x="1541.7" y="1525.7">GR05RAK0002</text>
</g>
<text id="title" x="1079" y="83.2" text-anchor="middle" font-size="33.5" font-weight="bold" fill="#000">Διανομή Διαθέσιμων Πινακίδων για το Υ.Δ. ΗΠΕΙΡΟΥ (GR05)</text>
<rect x="602" y="86" width="955" height="2.9" fill="#000"/>
<text id="legt" x="63.0" y="1455.2" font-size="38.89" font-weight="bold" fill="#000">Υπόμνημα</text>
<rect x="63.6" y="1487.8" width="76.8" height="38.6" fill="#fff"/>
<clipPath id="lc"><rect x="63.6" y="1487.8" width="76.8" height="38.6"/></clipPath>
<g clip-path="url(#lc)"><path d="M-1.81 1526.4L36.79 1487.8M17.85 1526.4L56.45 1487.8M37.51 1526.4L76.11 1487.8M57.17 1526.4L95.77 1487.8M76.82 1526.4L115.42 1487.8M96.48 1526.4L135.08 1487.8M116.14 1526.4L154.74 1487.8M135.80 1526.4L174.40 1487.8M155.45 1526.4L194.05 1487.8" stroke="#D2D2D2" stroke-width="5.1" fill="none"/><path d="M-7.32 1526.4L31.28 1487.8M12.34 1526.4L50.94 1487.8M31.99 1526.4L70.59 1487.8M51.65 1526.4L90.25 1487.8M71.31 1526.4L109.91 1487.8M90.97 1526.4L129.57 1487.8M110.62 1526.4L149.22 1487.8M130.28 1526.4L168.88 1487.8M149.94 1526.4L188.54 1487.8" stroke="#6E80AA" stroke-width="2.9" fill="none"/></g>
<rect x="63.6" y="1487.8" width="76.8" height="38.6" fill="none" stroke="#6B7080" stroke-width="1.2"/>
<text id="leg1" x="154.0" y="1517.2" font-size="27.87" fill="#000">Ζώνες Δυνητικά Υψηλού Κινδύνου Πλημμύρας</text>
<rect x="63.6" y="1549.8" width="76.8" height="38.6" fill="#fff" stroke="#808080" stroke-width="1.2"/>
<text id="leg2a" x="154.6" y="1577.8" font-size="27.78" fill="#000">02000-43500</text>
<text id="leg2b" x="332.6" y="1577.8" font-size="27.78" fill="#000">Κωδικός Πινακίδας</text>
<rect x="20.5" y="29.5" width="2312" height="1613" fill="none" stroke="#000" stroke-width="3"/>
</svg></body></html>
